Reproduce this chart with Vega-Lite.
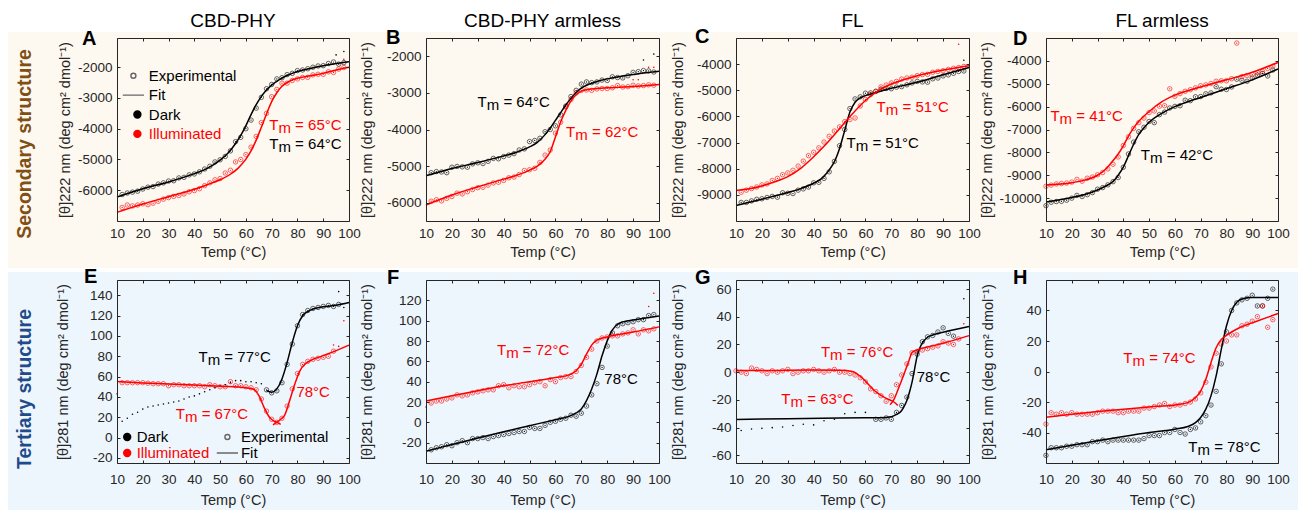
{"$schema":"https://vega.github.io/schema/vega-lite/v6.json","autosize":{"type":"none"},"padding":{"left":117,"top":38,"right":1181,"bottom":472},"background":"white",
"datasets":{
"exp":[
{"p":"A","c":"D","T":12,"v":-6140},{"p":"A","c":"D","T":14,"v":-6090},{"p":"A","c":"D","T":16,"v":-6060},{"p":"A","c":"D","T":18,"v":-6030},{"p":"A","c":"D","T":20,"v":-5960},{"p":"A","c":"D","T":22,"v":-5900},{"p":"A","c":"D","T":24,"v":-5880},{"p":"A","c":"D","T":26,"v":-5800},{"p":"A","c":"D","T":28,"v":-5760},{"p":"A","c":"D","T":30,"v":-5700},{"p":"A","c":"D","T":32,"v":-5690},{"p":"A","c":"D","T":34,"v":-5600},{"p":"A","c":"D","T":36,"v":-5580},{"p":"A","c":"D","T":38,"v":-5500},{"p":"A","c":"D","T":40,"v":-5470},{"p":"A","c":"D","T":42,"v":-5400},{"p":"A","c":"D","T":44,"v":-5310},{"p":"A","c":"D","T":46,"v":-5220},{"p":"A","c":"D","T":48,"v":-5080},{"p":"A","c":"D","T":50,"v":-5010},{"p":"A","c":"D","T":52,"v":-4900},{"p":"A","c":"D","T":54,"v":-4720},{"p":"A","c":"D","T":56,"v":-4420},{"p":"A","c":"D","T":58,"v":-4280},{"p":"A","c":"D","T":60,"v":-4000},{"p":"A","c":"D","T":62,"v":-3720},{"p":"A","c":"D","T":64,"v":-3330},{"p":"A","c":"D","T":66,"v":-2980},{"p":"A","c":"D","T":68,"v":-2700},{"p":"A","c":"D","T":70,"v":-2560},{"p":"A","c":"D","T":72,"v":-2380},{"p":"A","c":"D","T":74,"v":-2340},{"p":"A","c":"D","T":76,"v":-2240},{"p":"A","c":"D","T":78,"v":-2200},{"p":"A","c":"D","T":80,"v":-2110},{"p":"A","c":"D","T":82,"v":-2090},{"p":"A","c":"D","T":84,"v":-2050},{"p":"A","c":"D","T":86,"v":-2000},{"p":"A","c":"D","T":88,"v":-1960},{"p":"A","c":"D","T":90,"v":-1950},{"p":"A","c":"D","T":92,"v":-1880},{"p":"A","c":"D","T":94,"v":-1830},{"p":"A","c":"D","T":96,"v":-1900},{"p":"A","c":"D","T":98,"v":-1850},
{"p":"A","c":"I","T":12,"v":-6560},{"p":"A","c":"I","T":14,"v":-6480},{"p":"A","c":"I","T":16,"v":-6510},{"p":"A","c":"I","T":18,"v":-6480},{"p":"A","c":"I","T":20,"v":-6440},{"p":"A","c":"I","T":22,"v":-6470},{"p":"A","c":"I","T":24,"v":-6420},{"p":"A","c":"I","T":26,"v":-6360},{"p":"A","c":"I","T":28,"v":-6290},{"p":"A","c":"I","T":30,"v":-6240},{"p":"A","c":"I","T":32,"v":-6200},{"p":"A","c":"I","T":34,"v":-6170},{"p":"A","c":"I","T":36,"v":-6120},{"p":"A","c":"I","T":38,"v":-6050},{"p":"A","c":"I","T":40,"v":-6010},{"p":"A","c":"I","T":42,"v":-5950},{"p":"A","c":"I","T":44,"v":-5850},{"p":"A","c":"I","T":46,"v":-5760},{"p":"A","c":"I","T":48,"v":-5660},{"p":"A","c":"I","T":50,"v":-5620},{"p":"A","c":"I","T":52,"v":-5440},{"p":"A","c":"I","T":54,"v":-5350},{"p":"A","c":"I","T":56,"v":-5080},{"p":"A","c":"I","T":58,"v":-5000},{"p":"A","c":"I","T":60,"v":-4840},{"p":"A","c":"I","T":62,"v":-4600},{"p":"A","c":"I","T":64,"v":-4250},{"p":"A","c":"I","T":66,"v":-3800},{"p":"A","c":"I","T":68,"v":-3500},{"p":"A","c":"I","T":70,"v":-2960},{"p":"A","c":"I","T":72,"v":-2720},{"p":"A","c":"I","T":74,"v":-2520},{"p":"A","c":"I","T":76,"v":-2520},{"p":"A","c":"I","T":78,"v":-2430},{"p":"A","c":"I","T":80,"v":-2380},{"p":"A","c":"I","T":82,"v":-2330},{"p":"A","c":"I","T":84,"v":-2330},{"p":"A","c":"I","T":86,"v":-2250},{"p":"A","c":"I","T":88,"v":-2230},{"p":"A","c":"I","T":90,"v":-2230},{"p":"A","c":"I","T":92,"v":-2150},{"p":"A","c":"I","T":94,"v":-2170},{"p":"A","c":"I","T":96,"v":-2060},{"p":"A","c":"I","T":98,"v":-2010},
{"p":"B","c":"D","T":12,"v":-5180},{"p":"B","c":"D","T":14,"v":-5150},{"p":"B","c":"D","T":16,"v":-5160},{"p":"B","c":"D","T":18,"v":-5180},{"p":"B","c":"D","T":20,"v":-5030},{"p":"B","c":"D","T":22,"v":-5010},{"p":"B","c":"D","T":24,"v":-5020},{"p":"B","c":"D","T":26,"v":-5030},{"p":"B","c":"D","T":28,"v":-4940},{"p":"B","c":"D","T":30,"v":-4910},{"p":"B","c":"D","T":32,"v":-4930},{"p":"B","c":"D","T":34,"v":-4870},{"p":"B","c":"D","T":36,"v":-4790},{"p":"B","c":"D","T":38,"v":-4800},{"p":"B","c":"D","T":40,"v":-4740},{"p":"B","c":"D","T":42,"v":-4700},{"p":"B","c":"D","T":44,"v":-4660},{"p":"B","c":"D","T":46,"v":-4560},{"p":"B","c":"D","T":48,"v":-4530},{"p":"B","c":"D","T":50,"v":-4330},{"p":"B","c":"D","T":52,"v":-4300},{"p":"B","c":"D","T":54,"v":-4240},{"p":"B","c":"D","T":56,"v":-4060},{"p":"B","c":"D","T":58,"v":-4000},{"p":"B","c":"D","T":60,"v":-3900},{"p":"B","c":"D","T":62,"v":-3600},{"p":"B","c":"D","T":64,"v":-3360},{"p":"B","c":"D","T":66,"v":-3100},{"p":"B","c":"D","T":68,"v":-2930},{"p":"B","c":"D","T":70,"v":-2760},{"p":"B","c":"D","T":72,"v":-2700},{"p":"B","c":"D","T":74,"v":-2720},{"p":"B","c":"D","T":76,"v":-2700},{"p":"B","c":"D","T":78,"v":-2650},{"p":"B","c":"D","T":80,"v":-2660},{"p":"B","c":"D","T":82,"v":-2560},{"p":"B","c":"D","T":84,"v":-2580},{"p":"B","c":"D","T":86,"v":-2590},{"p":"B","c":"D","T":88,"v":-2530},{"p":"B","c":"D","T":90,"v":-2440},{"p":"B","c":"D","T":92,"v":-2420},{"p":"B","c":"D","T":94,"v":-2390},{"p":"B","c":"D","T":96,"v":-2400},{"p":"B","c":"D","T":98,"v":-2430},
{"p":"B","c":"I","T":12,"v":-5960},{"p":"B","c":"I","T":14,"v":-5920},{"p":"B","c":"I","T":16,"v":-5950},{"p":"B","c":"I","T":18,"v":-5880},{"p":"B","c":"I","T":20,"v":-5830},{"p":"B","c":"I","T":22,"v":-5740},{"p":"B","c":"I","T":24,"v":-5760},{"p":"B","c":"I","T":26,"v":-5700},{"p":"B","c":"I","T":28,"v":-5640},{"p":"B","c":"I","T":30,"v":-5590},{"p":"B","c":"I","T":32,"v":-5580},{"p":"B","c":"I","T":34,"v":-5520},{"p":"B","c":"I","T":36,"v":-5460},{"p":"B","c":"I","T":38,"v":-5440},{"p":"B","c":"I","T":40,"v":-5390},{"p":"B","c":"I","T":42,"v":-5320},{"p":"B","c":"I","T":44,"v":-5300},{"p":"B","c":"I","T":46,"v":-5230},{"p":"B","c":"I","T":48,"v":-5120},{"p":"B","c":"I","T":50,"v":-5100},{"p":"B","c":"I","T":52,"v":-5060},{"p":"B","c":"I","T":54,"v":-4900},{"p":"B","c":"I","T":56,"v":-4700},{"p":"B","c":"I","T":58,"v":-4560},{"p":"B","c":"I","T":60,"v":-4100},{"p":"B","c":"I","T":62,"v":-3800},{"p":"B","c":"I","T":64,"v":-3380},{"p":"B","c":"I","T":66,"v":-3180},{"p":"B","c":"I","T":68,"v":-3000},{"p":"B","c":"I","T":70,"v":-2930},{"p":"B","c":"I","T":72,"v":-2920},{"p":"B","c":"I","T":74,"v":-2930},{"p":"B","c":"I","T":76,"v":-2890},{"p":"B","c":"I","T":78,"v":-2880},{"p":"B","c":"I","T":80,"v":-2880},{"p":"B","c":"I","T":82,"v":-2860},{"p":"B","c":"I","T":84,"v":-2800},{"p":"B","c":"I","T":86,"v":-2840},{"p":"B","c":"I","T":88,"v":-2830},{"p":"B","c":"I","T":90,"v":-2790},{"p":"B","c":"I","T":92,"v":-2810},{"p":"B","c":"I","T":94,"v":-2800},{"p":"B","c":"I","T":96,"v":-2780},{"p":"B","c":"I","T":98,"v":-2790},
{"p":"C","c":"D","T":12,"v":-9290},{"p":"C","c":"D","T":14,"v":-9290},{"p":"C","c":"D","T":16,"v":-9230},{"p":"C","c":"D","T":18,"v":-9170},{"p":"C","c":"D","T":20,"v":-9150},{"p":"C","c":"D","T":22,"v":-9100},{"p":"C","c":"D","T":24,"v":-9060},{"p":"C","c":"D","T":26,"v":-9090},{"p":"C","c":"D","T":28,"v":-8920},{"p":"C","c":"D","T":30,"v":-8940},{"p":"C","c":"D","T":32,"v":-8950},{"p":"C","c":"D","T":34,"v":-8820},{"p":"C","c":"D","T":36,"v":-8770},{"p":"C","c":"D","T":38,"v":-8700},{"p":"C","c":"D","T":40,"v":-8540},{"p":"C","c":"D","T":42,"v":-8520},{"p":"C","c":"D","T":44,"v":-8370},{"p":"C","c":"D","T":46,"v":-8120},{"p":"C","c":"D","T":48,"v":-7720},{"p":"C","c":"D","T":50,"v":-7120},{"p":"C","c":"D","T":52,"v":-6500},{"p":"C","c":"D","T":54,"v":-5700},{"p":"C","c":"D","T":56,"v":-5330},{"p":"C","c":"D","T":58,"v":-5250},{"p":"C","c":"D","T":60,"v":-5110},{"p":"C","c":"D","T":62,"v":-5100},{"p":"C","c":"D","T":64,"v":-5040},{"p":"C","c":"D","T":66,"v":-4960},{"p":"C","c":"D","T":68,"v":-4930},{"p":"C","c":"D","T":70,"v":-4940},{"p":"C","c":"D","T":72,"v":-4880},{"p":"C","c":"D","T":74,"v":-4860},{"p":"C","c":"D","T":76,"v":-4790},{"p":"C","c":"D","T":78,"v":-4720},{"p":"C","c":"D","T":80,"v":-4660},{"p":"C","c":"D","T":82,"v":-4680},{"p":"C","c":"D","T":84,"v":-4690},{"p":"C","c":"D","T":86,"v":-4560},{"p":"C","c":"D","T":88,"v":-4530},{"p":"C","c":"D","T":90,"v":-4450},{"p":"C","c":"D","T":92,"v":-4410},{"p":"C","c":"D","T":94,"v":-4350},{"p":"C","c":"D","T":96,"v":-4280},{"p":"C","c":"D","T":98,"v":-4260},
{"p":"C","c":"I","T":12,"v":-8900},{"p":"C","c":"I","T":14,"v":-8820},{"p":"C","c":"I","T":16,"v":-8760},{"p":"C","c":"I","T":18,"v":-8700},{"p":"C","c":"I","T":20,"v":-8620},{"p":"C","c":"I","T":22,"v":-8580},{"p":"C","c":"I","T":24,"v":-8450},{"p":"C","c":"I","T":26,"v":-8370},{"p":"C","c":"I","T":28,"v":-8230},{"p":"C","c":"I","T":30,"v":-8160},{"p":"C","c":"I","T":32,"v":-8060},{"p":"C","c":"I","T":34,"v":-7900},{"p":"C","c":"I","T":36,"v":-7710},{"p":"C","c":"I","T":38,"v":-7500},{"p":"C","c":"I","T":40,"v":-7370},{"p":"C","c":"I","T":42,"v":-7200},{"p":"C","c":"I","T":44,"v":-6980},{"p":"C","c":"I","T":46,"v":-6760},{"p":"C","c":"I","T":48,"v":-6560},{"p":"C","c":"I","T":50,"v":-6400},{"p":"C","c":"I","T":52,"v":-6200},{"p":"C","c":"I","T":54,"v":-6120},{"p":"C","c":"I","T":56,"v":-6060},{"p":"C","c":"I","T":58,"v":-5600},{"p":"C","c":"I","T":60,"v":-5350},{"p":"C","c":"I","T":62,"v":-5160},{"p":"C","c":"I","T":64,"v":-5040},{"p":"C","c":"I","T":66,"v":-4870},{"p":"C","c":"I","T":68,"v":-4800},{"p":"C","c":"I","T":70,"v":-4720},{"p":"C","c":"I","T":72,"v":-4660},{"p":"C","c":"I","T":74,"v":-4570},{"p":"C","c":"I","T":76,"v":-4530},{"p":"C","c":"I","T":78,"v":-4500},{"p":"C","c":"I","T":80,"v":-4440},{"p":"C","c":"I","T":82,"v":-4400},{"p":"C","c":"I","T":84,"v":-4390},{"p":"C","c":"I","T":86,"v":-4310},{"p":"C","c":"I","T":88,"v":-4280},{"p":"C","c":"I","T":90,"v":-4250},{"p":"C","c":"I","T":92,"v":-4200},{"p":"C","c":"I","T":94,"v":-4160},{"p":"C","c":"I","T":96,"v":-4130},{"p":"C","c":"I","T":98,"v":-4090},
{"p":"D","c":"D","T":10,"v":-10330},{"p":"D","c":"D","T":12,"v":-10180},{"p":"D","c":"D","T":14,"v":-10150},{"p":"D","c":"D","T":16,"v":-10140},{"p":"D","c":"D","T":18,"v":-10090},{"p":"D","c":"D","T":20,"v":-10000},{"p":"D","c":"D","T":22,"v":-9880},{"p":"D","c":"D","T":24,"v":-9930},{"p":"D","c":"D","T":26,"v":-9850},{"p":"D","c":"D","T":28,"v":-9760},{"p":"D","c":"D","T":30,"v":-9610},{"p":"D","c":"D","T":32,"v":-9540},{"p":"D","c":"D","T":34,"v":-9420},{"p":"D","c":"D","T":36,"v":-9280},{"p":"D","c":"D","T":38,"v":-9100},{"p":"D","c":"D","T":40,"v":-8650},{"p":"D","c":"D","T":42,"v":-8070},{"p":"D","c":"D","T":44,"v":-7550},{"p":"D","c":"D","T":46,"v":-7100},{"p":"D","c":"D","T":48,"v":-6900},{"p":"D","c":"D","T":50,"v":-6650},{"p":"D","c":"D","T":52,"v":-6700},{"p":"D","c":"D","T":54,"v":-6350},{"p":"D","c":"D","T":56,"v":-6240},{"p":"D","c":"D","T":58,"v":-6060},{"p":"D","c":"D","T":60,"v":-5990},{"p":"D","c":"D","T":62,"v":-5960},{"p":"D","c":"D","T":64,"v":-5720},{"p":"D","c":"D","T":66,"v":-5740},{"p":"D","c":"D","T":68,"v":-5570},{"p":"D","c":"D","T":70,"v":-5560},{"p":"D","c":"D","T":72,"v":-5440},{"p":"D","c":"D","T":74,"v":-5400},{"p":"D","c":"D","T":76,"v":-5130},{"p":"D","c":"D","T":78,"v":-5240},{"p":"D","c":"D","T":80,"v":-5250},{"p":"D","c":"D","T":82,"v":-5140},{"p":"D","c":"D","T":84,"v":-4800},{"p":"D","c":"D","T":86,"v":-4850},{"p":"D","c":"D","T":88,"v":-4890},{"p":"D","c":"D","T":90,"v":-4750},{"p":"D","c":"D","T":92,"v":-4620},{"p":"D","c":"D","T":94,"v":-4550},{"p":"D","c":"D","T":96,"v":-4660},{"p":"D","c":"D","T":98,"v":-4400},
{"p":"D","c":"I","T":10,"v":-9480},{"p":"D","c":"I","T":12,"v":-9430},{"p":"D","c":"I","T":14,"v":-9380},{"p":"D","c":"I","T":16,"v":-9360},{"p":"D","c":"I","T":18,"v":-9340},{"p":"D","c":"I","T":20,"v":-9300},{"p":"D","c":"I","T":22,"v":-9180},{"p":"D","c":"I","T":24,"v":-9260},{"p":"D","c":"I","T":26,"v":-9130},{"p":"D","c":"I","T":28,"v":-9080},{"p":"D","c":"I","T":30,"v":-8980},{"p":"D","c":"I","T":32,"v":-8880},{"p":"D","c":"I","T":34,"v":-8720},{"p":"D","c":"I","T":36,"v":-8520},{"p":"D","c":"I","T":38,"v":-8200},{"p":"D","c":"I","T":40,"v":-7700},{"p":"D","c":"I","T":42,"v":-7320},{"p":"D","c":"I","T":44,"v":-6950},{"p":"D","c":"I","T":46,"v":-6700},{"p":"D","c":"I","T":48,"v":-6500},{"p":"D","c":"I","T":50,"v":-6260},{"p":"D","c":"I","T":52,"v":-6190},{"p":"D","c":"I","T":54,"v":-5980},{"p":"D","c":"I","T":56,"v":-5960},{"p":"D","c":"I","T":58,"v":-5220},{"p":"D","c":"I","T":60,"v":-5550},{"p":"D","c":"I","T":62,"v":-5430},{"p":"D","c":"I","T":64,"v":-5330},{"p":"D","c":"I","T":66,"v":-5260},{"p":"D","c":"I","T":68,"v":-5180},{"p":"D","c":"I","T":70,"v":-5090},{"p":"D","c":"I","T":72,"v":-5050},{"p":"D","c":"I","T":74,"v":-4990},{"p":"D","c":"I","T":76,"v":-4890},{"p":"D","c":"I","T":78,"v":-4870},{"p":"D","c":"I","T":80,"v":-4870},{"p":"D","c":"I","T":82,"v":-4780},{"p":"D","c":"I","T":84,"v":-3220},{"p":"D","c":"I","T":86,"v":-4690},{"p":"D","c":"I","T":88,"v":-4640},{"p":"D","c":"I","T":90,"v":-4600},{"p":"D","c":"I","T":92,"v":-4510},{"p":"D","c":"I","T":94,"v":-4470},{"p":"D","c":"I","T":96,"v":-4330},{"p":"D","c":"I","T":98,"v":-4230},
{"p":"E","c":"D","T":68,"v":47},{"p":"E","c":"D","T":70,"v":44},{"p":"E","c":"D","T":72,"v":46},{"p":"E","c":"D","T":74,"v":54},{"p":"E","c":"D","T":76,"v":72},{"p":"E","c":"D","T":78,"v":92},{"p":"E","c":"D","T":80,"v":110},{"p":"E","c":"D","T":82,"v":121},{"p":"E","c":"D","T":84,"v":125},{"p":"E","c":"D","T":86,"v":127},{"p":"E","c":"D","T":88,"v":128},{"p":"E","c":"D","T":90,"v":129},{"p":"E","c":"D","T":92,"v":130},{"p":"E","c":"D","T":94,"v":129},{"p":"E","c":"D","T":96,"v":131},
{"p":"E","c":"I","T":12,"v":54},{"p":"E","c":"I","T":14,"v":54},{"p":"E","c":"I","T":16,"v":54},{"p":"E","c":"I","T":18,"v":54},{"p":"E","c":"I","T":20,"v":54},{"p":"E","c":"I","T":22,"v":53.5},{"p":"E","c":"I","T":24,"v":53},{"p":"E","c":"I","T":26,"v":53},{"p":"E","c":"I","T":28,"v":53},{"p":"E","c":"I","T":30,"v":51},{"p":"E","c":"I","T":32,"v":52},{"p":"E","c":"I","T":34,"v":52},{"p":"E","c":"I","T":36,"v":51},{"p":"E","c":"I","T":38,"v":51},{"p":"E","c":"I","T":40,"v":51},{"p":"E","c":"I","T":42,"v":51},{"p":"E","c":"I","T":44,"v":50},{"p":"E","c":"I","T":46,"v":52},{"p":"E","c":"I","T":48,"v":51},{"p":"E","c":"I","T":50,"v":50},{"p":"E","c":"I","T":52,"v":50},{"p":"E","c":"I","T":54,"v":55},{"p":"E","c":"I","T":56,"v":51},{"p":"E","c":"I","T":58,"v":51},{"p":"E","c":"I","T":60,"v":50},{"p":"E","c":"I","T":62,"v":49},{"p":"E","c":"I","T":64,"v":47},{"p":"E","c":"I","T":66,"v":38},{"p":"E","c":"I","T":68,"v":26},{"p":"E","c":"I","T":70,"v":18},{"p":"E","c":"I","T":72,"v":15},{"p":"E","c":"I","T":74,"v":19},{"p":"E","c":"I","T":76,"v":31},{"p":"E","c":"I","T":78,"v":48},{"p":"E","c":"I","T":80,"v":63},{"p":"E","c":"I","T":82,"v":72},{"p":"E","c":"I","T":84,"v":75},{"p":"E","c":"I","T":86,"v":77},{"p":"E","c":"I","T":88,"v":78},{"p":"E","c":"I","T":90,"v":79},{"p":"E","c":"I","T":92,"v":80},{"p":"E","c":"I","T":94,"v":85},
{"p":"F","c":"D","T":12,"v":-27},{"p":"F","c":"D","T":14,"v":-25},{"p":"F","c":"D","T":16,"v":-24},{"p":"F","c":"D","T":18,"v":-22},{"p":"F","c":"D","T":20,"v":-23},{"p":"F","c":"D","T":22,"v":-20},{"p":"F","c":"D","T":24,"v":-18},{"p":"F","c":"D","T":26,"v":-20},{"p":"F","c":"D","T":28,"v":-16},{"p":"F","c":"D","T":30,"v":-16},{"p":"F","c":"D","T":32,"v":-15},{"p":"F","c":"D","T":34,"v":-16},{"p":"F","c":"D","T":36,"v":-14},{"p":"F","c":"D","T":38,"v":-13},{"p":"F","c":"D","T":40,"v":-12},{"p":"F","c":"D","T":42,"v":-11},{"p":"F","c":"D","T":44,"v":-10},{"p":"F","c":"D","T":46,"v":-9},{"p":"F","c":"D","T":48,"v":-9},{"p":"F","c":"D","T":50,"v":-5},{"p":"F","c":"D","T":52,"v":-6},{"p":"F","c":"D","T":54,"v":-6},{"p":"F","c":"D","T":56,"v":-3},{"p":"F","c":"D","T":58,"v":0},{"p":"F","c":"D","T":60,"v":1},{"p":"F","c":"D","T":62,"v":3},{"p":"F","c":"D","T":64,"v":4},{"p":"F","c":"D","T":66,"v":7},{"p":"F","c":"D","T":68,"v":6},{"p":"F","c":"D","T":70,"v":9},{"p":"F","c":"D","T":72,"v":16},{"p":"F","c":"D","T":74,"v":27},{"p":"F","c":"D","T":76,"v":38},{"p":"F","c":"D","T":78,"v":54},{"p":"F","c":"D","T":80,"v":75},{"p":"F","c":"D","T":82,"v":88},{"p":"F","c":"D","T":84,"v":95},{"p":"F","c":"D","T":86,"v":97},{"p":"F","c":"D","T":88,"v":98},{"p":"F","c":"D","T":90,"v":99},{"p":"F","c":"D","T":92,"v":101},{"p":"F","c":"D","T":94,"v":101},{"p":"F","c":"D","T":96,"v":105},{"p":"F","c":"D","T":98,"v":106},
{"p":"F","c":"I","T":12,"v":19},{"p":"F","c":"I","T":14,"v":21},{"p":"F","c":"I","T":16,"v":21},{"p":"F","c":"I","T":18,"v":23},{"p":"F","c":"I","T":20,"v":24},{"p":"F","c":"I","T":22,"v":27},{"p":"F","c":"I","T":24,"v":26},{"p":"F","c":"I","T":26,"v":27},{"p":"F","c":"I","T":28,"v":29},{"p":"F","c":"I","T":30,"v":30},{"p":"F","c":"I","T":32,"v":31},{"p":"F","c":"I","T":34,"v":32},{"p":"F","c":"I","T":36,"v":32},{"p":"F","c":"I","T":38,"v":36},{"p":"F","c":"I","T":40,"v":37},{"p":"F","c":"I","T":42,"v":34},{"p":"F","c":"I","T":44,"v":36},{"p":"F","c":"I","T":46,"v":35},{"p":"F","c":"I","T":48,"v":35},{"p":"F","c":"I","T":50,"v":37},{"p":"F","c":"I","T":52,"v":39},{"p":"F","c":"I","T":54,"v":40},{"p":"F","c":"I","T":56,"v":36},{"p":"F","c":"I","T":58,"v":42},{"p":"F","c":"I","T":60,"v":40},{"p":"F","c":"I","T":62,"v":44},{"p":"F","c":"I","T":64,"v":45},{"p":"F","c":"I","T":66,"v":45},{"p":"F","c":"I","T":68,"v":50},{"p":"F","c":"I","T":70,"v":56},{"p":"F","c":"I","T":72,"v":64},{"p":"F","c":"I","T":74,"v":72},{"p":"F","c":"I","T":76,"v":80},{"p":"F","c":"I","T":78,"v":83},{"p":"F","c":"I","T":80,"v":84},{"p":"F","c":"I","T":82,"v":85},{"p":"F","c":"I","T":84,"v":85},{"p":"F","c":"I","T":86,"v":87},{"p":"F","c":"I","T":88,"v":88},{"p":"F","c":"I","T":90,"v":91},{"p":"F","c":"I","T":92,"v":87},{"p":"F","c":"I","T":94,"v":91},{"p":"F","c":"I","T":96,"v":90},{"p":"F","c":"I","T":98,"v":92},
{"p":"G","c":"D","T":64,"v":-34},{"p":"G","c":"D","T":66,"v":-34},{"p":"G","c":"D","T":68,"v":-33},{"p":"G","c":"D","T":70,"v":-34},{"p":"G","c":"D","T":72,"v":-29},{"p":"G","c":"D","T":74,"v":-24},{"p":"G","c":"D","T":76,"v":-18},{"p":"G","c":"D","T":78,"v":-1},{"p":"G","c":"D","T":80,"v":13},{"p":"G","c":"D","T":82,"v":22},{"p":"G","c":"D","T":84,"v":25.5},{"p":"G","c":"D","T":86,"v":26.5},{"p":"G","c":"D","T":88,"v":29},{"p":"G","c":"D","T":90,"v":32},{"p":"G","c":"D","T":92,"v":28},{"p":"G","c":"D","T":94,"v":26},
{"p":"G","c":"I","T":10,"v":1},{"p":"G","c":"I","T":12,"v":0},{"p":"G","c":"I","T":14,"v":-1},{"p":"G","c":"I","T":16,"v":3},{"p":"G","c":"I","T":18,"v":2},{"p":"G","c":"I","T":20,"v":1},{"p":"G","c":"I","T":22,"v":-1},{"p":"G","c":"I","T":24,"v":1},{"p":"G","c":"I","T":26,"v":0},{"p":"G","c":"I","T":28,"v":1},{"p":"G","c":"I","T":30,"v":2},{"p":"G","c":"I","T":32,"v":-1},{"p":"G","c":"I","T":34,"v":0},{"p":"G","c":"I","T":36,"v":1},{"p":"G","c":"I","T":38,"v":1},{"p":"G","c":"I","T":40,"v":2},{"p":"G","c":"I","T":42,"v":1},{"p":"G","c":"I","T":44,"v":0},{"p":"G","c":"I","T":46,"v":1},{"p":"G","c":"I","T":48,"v":2},{"p":"G","c":"I","T":50,"v":0},{"p":"G","c":"I","T":52,"v":0},{"p":"G","c":"I","T":54,"v":-1},{"p":"G","c":"I","T":56,"v":-2},{"p":"G","c":"I","T":58,"v":-4},{"p":"G","c":"I","T":60,"v":-7},{"p":"G","c":"I","T":62,"v":-12},{"p":"G","c":"I","T":64,"v":-14},{"p":"G","c":"I","T":66,"v":-17},{"p":"G","c":"I","T":68,"v":-21},{"p":"G","c":"I","T":70,"v":-17},{"p":"G","c":"I","T":72,"v":-9},{"p":"G","c":"I","T":74,"v":-2},{"p":"G","c":"I","T":76,"v":6},{"p":"G","c":"I","T":78,"v":14},{"p":"G","c":"I","T":80,"v":15},{"p":"G","c":"I","T":82,"v":16},{"p":"G","c":"I","T":84,"v":17},{"p":"G","c":"I","T":86,"v":18},{"p":"G","c":"I","T":88,"v":19},{"p":"G","c":"I","T":90,"v":22},{"p":"G","c":"I","T":92,"v":21},{"p":"G","c":"I","T":94,"v":20},{"p":"G","c":"I","T":96,"v":24},
{"p":"H","c":"D","T":10,"v":-55},{"p":"H","c":"D","T":12,"v":-50},{"p":"H","c":"D","T":14,"v":-50},{"p":"H","c":"D","T":16,"v":-50},{"p":"H","c":"D","T":18,"v":-49},{"p":"H","c":"D","T":20,"v":-49},{"p":"H","c":"D","T":22,"v":-48},{"p":"H","c":"D","T":24,"v":-48},{"p":"H","c":"D","T":26,"v":-48},{"p":"H","c":"D","T":28,"v":-46},{"p":"H","c":"D","T":30,"v":-46},{"p":"H","c":"D","T":32,"v":-45},{"p":"H","c":"D","T":34,"v":-46},{"p":"H","c":"D","T":36,"v":-45},{"p":"H","c":"D","T":38,"v":-45},{"p":"H","c":"D","T":40,"v":-45},{"p":"H","c":"D","T":42,"v":-45},{"p":"H","c":"D","T":44,"v":-45},{"p":"H","c":"D","T":46,"v":-45},{"p":"H","c":"D","T":48,"v":-44},{"p":"H","c":"D","T":50,"v":-42},{"p":"H","c":"D","T":52,"v":-42},{"p":"H","c":"D","T":54,"v":-42},{"p":"H","c":"D","T":56,"v":-40},{"p":"H","c":"D","T":58,"v":-40},{"p":"H","c":"D","T":60,"v":-38},{"p":"H","c":"D","T":62,"v":-40},{"p":"H","c":"D","T":64,"v":-41},{"p":"H","c":"D","T":66,"v":-38},{"p":"H","c":"D","T":68,"v":-37},{"p":"H","c":"D","T":70,"v":-33},{"p":"H","c":"D","T":72,"v":-29},{"p":"H","c":"D","T":74,"v":-22},{"p":"H","c":"D","T":76,"v":-13},{"p":"H","c":"D","T":78,"v":5},{"p":"H","c":"D","T":80,"v":26},{"p":"H","c":"D","T":82,"v":40},{"p":"H","c":"D","T":84,"v":45},{"p":"H","c":"D","T":86,"v":47},{"p":"H","c":"D","T":88,"v":48},{"p":"H","c":"D","T":90,"v":50},{"p":"H","c":"D","T":92,"v":43},{"p":"H","c":"D","T":94,"v":43},{"p":"H","c":"D","T":96,"v":48},{"p":"H","c":"D","T":98,"v":54},
{"p":"H","c":"I","T":10,"v":-34.5},{"p":"H","c":"I","T":12,"v":-27},{"p":"H","c":"I","T":14,"v":-28},{"p":"H","c":"I","T":16,"v":-27},{"p":"H","c":"I","T":18,"v":-28},{"p":"H","c":"I","T":20,"v":-27},{"p":"H","c":"I","T":22,"v":-28},{"p":"H","c":"I","T":24,"v":-28},{"p":"H","c":"I","T":26,"v":-28},{"p":"H","c":"I","T":28,"v":-28},{"p":"H","c":"I","T":30,"v":-27},{"p":"H","c":"I","T":32,"v":-26},{"p":"H","c":"I","T":34,"v":-26},{"p":"H","c":"I","T":36,"v":-26},{"p":"H","c":"I","T":38,"v":-27},{"p":"H","c":"I","T":40,"v":-27},{"p":"H","c":"I","T":42,"v":-26},{"p":"H","c":"I","T":44,"v":-26},{"p":"H","c":"I","T":46,"v":-26},{"p":"H","c":"I","T":48,"v":-24},{"p":"H","c":"I","T":50,"v":-24},{"p":"H","c":"I","T":52,"v":-23},{"p":"H","c":"I","T":54,"v":-22},{"p":"H","c":"I","T":56,"v":-21},{"p":"H","c":"I","T":58,"v":-23},{"p":"H","c":"I","T":60,"v":-22},{"p":"H","c":"I","T":62,"v":-22},{"p":"H","c":"I","T":64,"v":-21},{"p":"H","c":"I","T":66,"v":-20},{"p":"H","c":"I","T":68,"v":-18},{"p":"H","c":"I","T":70,"v":-14},{"p":"H","c":"I","T":72,"v":-7},{"p":"H","c":"I","T":74,"v":3},{"p":"H","c":"I","T":76,"v":12},{"p":"H","c":"I","T":78,"v":18},{"p":"H","c":"I","T":80,"v":20},{"p":"H","c":"I","T":82,"v":24},{"p":"H","c":"I","T":84,"v":24},{"p":"H","c":"I","T":86,"v":30},{"p":"H","c":"I","T":88,"v":31},{"p":"H","c":"I","T":90,"v":33},{"p":"H","c":"I","T":92,"v":36},{"p":"H","c":"I","T":94,"v":43},{"p":"H","c":"I","T":96,"v":29},{"p":"H","c":"I","T":98,"v":34}
],
"fit":[
{"p":"A","c":"D","T":10,"v":-6220},{"p":"A","c":"D","T":20,"v":-5950},{"p":"A","c":"D","T":30,"v":-5730},{"p":"A","c":"D","T":40,"v":-5460},{"p":"A","c":"D","T":45,"v":-5290},{"p":"A","c":"D","T":50,"v":-5020},{"p":"A","c":"D","T":53,"v":-4800},{"p":"A","c":"D","T":56,"v":-4480},{"p":"A","c":"D","T":58,"v":-4220},{"p":"A","c":"D","T":60,"v":-3900},{"p":"A","c":"D","T":62,"v":-3540},{"p":"A","c":"D","T":64,"v":-3220},{"p":"A","c":"D","T":66,"v":-2950},{"p":"A","c":"D","T":68,"v":-2740},{"p":"A","c":"D","T":70,"v":-2580},{"p":"A","c":"D","T":73,"v":-2400},{"p":"A","c":"D","T":76,"v":-2270},{"p":"A","c":"D","T":80,"v":-2140},{"p":"A","c":"D","T":85,"v":-2040},{"p":"A","c":"D","T":90,"v":-1950},{"p":"A","c":"D","T":95,"v":-1880},{"p":"A","c":"D","T":100,"v":-1820},
{"p":"A","c":"I","T":10,"v":-6720},{"p":"A","c":"I","T":20,"v":-6450},{"p":"A","c":"I","T":30,"v":-6210},{"p":"A","c":"I","T":40,"v":-5970},{"p":"A","c":"I","T":45,"v":-5820},{"p":"A","c":"I","T":50,"v":-5660},{"p":"A","c":"I","T":54,"v":-5480},{"p":"A","c":"I","T":57,"v":-5280},{"p":"A","c":"I","T":60,"v":-4990},{"p":"A","c":"I","T":62,"v":-4720},{"p":"A","c":"I","T":64,"v":-4370},{"p":"A","c":"I","T":66,"v":-3950},{"p":"A","c":"I","T":68,"v":-3520},{"p":"A","c":"I","T":70,"v":-3120},{"p":"A","c":"I","T":72,"v":-2830},{"p":"A","c":"I","T":74,"v":-2620},{"p":"A","c":"I","T":77,"v":-2450},{"p":"A","c":"I","T":80,"v":-2360},{"p":"A","c":"I","T":85,"v":-2280},{"p":"A","c":"I","T":90,"v":-2200},{"p":"A","c":"I","T":95,"v":-2090},{"p":"A","c":"I","T":100,"v":-2000},
{"p":"B","c":"D","T":10,"v":-5265},{"p":"B","c":"D","T":20,"v":-5066},{"p":"B","c":"D","T":30,"v":-4902},{"p":"B","c":"D","T":40,"v":-4721},{"p":"B","c":"D","T":45,"v":-4620},{"p":"B","c":"D","T":50,"v":-4476},{"p":"B","c":"D","T":53,"v":-4350},{"p":"B","c":"D","T":56,"v":-4140},{"p":"B","c":"D","T":58,"v":-3960},{"p":"B","c":"D","T":60,"v":-3750},{"p":"B","c":"D","T":62,"v":-3540},{"p":"B","c":"D","T":64,"v":-3330},{"p":"B","c":"D","T":66,"v":-3150},{"p":"B","c":"D","T":68,"v":-2990},{"p":"B","c":"D","T":70,"v":-2870},{"p":"B","c":"D","T":73,"v":-2760},{"p":"B","c":"D","T":76,"v":-2690},{"p":"B","c":"D","T":80,"v":-2617},{"p":"B","c":"D","T":85,"v":-2550},{"p":"B","c":"D","T":90,"v":-2499},{"p":"B","c":"D","T":95,"v":-2450},{"p":"B","c":"D","T":100,"v":-2408},
{"p":"B","c":"I","T":10,"v":-6063},{"p":"B","c":"I","T":20,"v":-5791},{"p":"B","c":"I","T":30,"v":-5565},{"p":"B","c":"I","T":40,"v":-5356},{"p":"B","c":"I","T":45,"v":-5250},{"p":"B","c":"I","T":50,"v":-5111},{"p":"B","c":"I","T":53,"v":-5000},{"p":"B","c":"I","T":55,"v":-4884},{"p":"B","c":"I","T":57,"v":-4720},{"p":"B","c":"I","T":58,"v":-4600},{"p":"B","c":"I","T":60,"v":-4204},{"p":"B","c":"I","T":62,"v":-3796},{"p":"B","c":"I","T":64,"v":-3478},{"p":"B","c":"I","T":66,"v":-3220},{"p":"B","c":"I","T":68,"v":-3052},{"p":"B","c":"I","T":70,"v":-2952},{"p":"B","c":"I","T":73,"v":-2900},{"p":"B","c":"I","T":76,"v":-2880},{"p":"B","c":"I","T":80,"v":-2862},{"p":"B","c":"I","T":90,"v":-2825},{"p":"B","c":"I","T":100,"v":-2771},
{"p":"C","c":"D","T":10,"v":-9405},{"p":"C","c":"D","T":20,"v":-9165},{"p":"C","c":"D","T":30,"v":-8911},{"p":"C","c":"D","T":35,"v":-8760},{"p":"C","c":"D","T":40,"v":-8557},{"p":"C","c":"D","T":43,"v":-8380},{"p":"C","c":"D","T":45,"v":-8177},{"p":"C","c":"D","T":47,"v":-7900},{"p":"C","c":"D","T":48,"v":-7734},{"p":"C","c":"D","T":50,"v":-7228},{"p":"C","c":"D","T":52,"v":-6532},{"p":"C","c":"D","T":54,"v":-5835},{"p":"C","c":"D","T":56,"v":-5456},{"p":"C","c":"D","T":58,"v":-5291},{"p":"C","c":"D","T":60,"v":-5203},{"p":"C","c":"D","T":65,"v":-5060},{"p":"C","c":"D","T":70,"v":-4924},{"p":"C","c":"D","T":80,"v":-4696},{"p":"C","c":"D","T":90,"v":-4405},{"p":"C","c":"D","T":100,"v":-4127},
{"p":"C","c":"I","T":10,"v":-8835},{"p":"C","c":"I","T":15,"v":-8770},{"p":"C","c":"I","T":20,"v":-8658},{"p":"C","c":"I","T":25,"v":-8500},{"p":"C","c":"I","T":30,"v":-8304},{"p":"C","c":"I","T":35,"v":-7987},{"p":"C","c":"I","T":40,"v":-7544},{"p":"C","c":"I","T":45,"v":-7038},{"p":"C","c":"I","T":50,"v":-6468},{"p":"C","c":"I","T":55,"v":-5899},{"p":"C","c":"I","T":60,"v":-5392},{"p":"C","c":"I","T":65,"v":-5013},{"p":"C","c":"I","T":70,"v":-4759},{"p":"C","c":"I","T":75,"v":-4590},{"p":"C","c":"I","T":80,"v":-4443},{"p":"C","c":"I","T":90,"v":-4228},{"p":"C","c":"I","T":100,"v":-4063},
{"p":"D","c":"D","T":10,"v":-10171},{"p":"D","c":"D","T":20,"v":-9971},{"p":"D","c":"D","T":25,"v":-9840},{"p":"D","c":"D","T":30,"v":-9643},{"p":"D","c":"D","T":33,"v":-9480},{"p":"D","c":"D","T":35,"v":-9357},{"p":"D","c":"D","T":37,"v":-9150},{"p":"D","c":"D","T":38,"v":-9000},{"p":"D","c":"D","T":40,"v":-8643},{"p":"D","c":"D","T":42,"v":-8143},{"p":"D","c":"D","T":44,"v":-7643},{"p":"D","c":"D","T":46,"v":-7214},{"p":"D","c":"D","T":48,"v":-6929},{"p":"D","c":"D","T":50,"v":-6686},{"p":"D","c":"D","T":55,"v":-6286},{"p":"D","c":"D","T":60,"v":-6000},{"p":"D","c":"D","T":65,"v":-5790},{"p":"D","c":"D","T":70,"v":-5600},{"p":"D","c":"D","T":80,"v":-5214},{"p":"D","c":"D","T":90,"v":-4829},{"p":"D","c":"D","T":100,"v":-4357},
{"p":"D","c":"I","T":10,"v":-9429},{"p":"D","c":"I","T":20,"v":-9329},{"p":"D","c":"I","T":25,"v":-9214},{"p":"D","c":"I","T":30,"v":-9000},{"p":"D","c":"I","T":33,"v":-8750},{"p":"D","c":"I","T":35,"v":-8500},{"p":"D","c":"I","T":38,"v":-8071},{"p":"D","c":"I","T":40,"v":-7714},{"p":"D","c":"I","T":42,"v":-7286},{"p":"D","c":"I","T":44,"v":-6929},{"p":"D","c":"I","T":46,"v":-6643},{"p":"D","c":"I","T":50,"v":-6214},{"p":"D","c":"I","T":55,"v":-5786},{"p":"D","c":"I","T":60,"v":-5500},{"p":"D","c":"I","T":70,"v":-5143},{"p":"D","c":"I","T":80,"v":-4829},{"p":"D","c":"I","T":90,"v":-4500},{"p":"D","c":"I","T":100,"v":-4071},
{"p":"E","c":"D","T":68,"v":46.3},{"p":"E","c":"D","T":70,"v":44.7},{"p":"E","c":"D","T":72,"v":47.9},{"p":"E","c":"D","T":74,"v":57.7},{"p":"E","c":"D","T":76,"v":74},{"p":"E","c":"D","T":78,"v":93.6},{"p":"E","c":"D","T":80,"v":110},{"p":"E","c":"D","T":82,"v":119.8},{"p":"E","c":"D","T":85,"v":125.3},{"p":"E","c":"D","T":90,"v":128.6},{"p":"E","c":"D","T":95,"v":130.2},{"p":"E","c":"D","T":100,"v":132.8},
{"p":"E","c":"I","s":"1","T":10,"v":55.1},{"p":"E","c":"I","s":"1","T":20,"v":53.8},{"p":"E","c":"I","s":"1","T":30,"v":52.8},{"p":"E","c":"I","s":"1","T":40,"v":51.8},{"p":"E","c":"I","s":"1","T":50,"v":50.5},{"p":"E","c":"I","s":"1","T":60,"v":48.9},{"p":"E","c":"I","s":"1","T":63,"v":47.5},{"p":"E","c":"I","s":"1","T":65,"v":41.4},{"p":"E","c":"I","s":"1","T":67,"v":30},{"p":"E","c":"I","s":"1","T":69,"v":20.5},{"p":"E","c":"I","s":"1","T":70.5,"v":16.8},{"p":"E","c":"I","s":"1","T":72,"v":15},{"p":"E","c":"I","s":"1","T":73.5,"v":13},
{"p":"E","c":"I","s":"2","T":70.5,"v":12.6},{"p":"E","c":"I","s":"2","T":72,"v":15},{"p":"E","c":"I","s":"2","T":73.5,"v":18},{"p":"E","c":"I","s":"2","T":75,"v":21.8},{"p":"E","c":"I","s":"2","T":77,"v":36.5},{"p":"E","c":"I","s":"2","T":79,"v":52.8},{"p":"E","c":"I","s":"2","T":81,"v":65.9},{"p":"E","c":"I","s":"2","T":83,"v":72.4},{"p":"E","c":"I","s":"2","T":85,"v":75.7},{"p":"E","c":"I","s":"2","T":90,"v":80.6},{"p":"E","c":"I","s":"2","T":95,"v":85.5},{"p":"E","c":"I","s":"2","T":100,"v":91},
{"p":"F","c":"D","T":10,"v":-28.4},{"p":"F","c":"D","T":20,"v":-21.9},{"p":"F","c":"D","T":30,"v":-15.4},{"p":"F","c":"D","T":40,"v":-9.2},{"p":"F","c":"D","T":50,"v":-3.3},{"p":"F","c":"D","T":60,"v":2.6},{"p":"F","c":"D","T":65,"v":5.6},{"p":"F","c":"D","T":68,"v":9.2},{"p":"F","c":"D","T":70,"v":13.1},{"p":"F","c":"D","T":72,"v":21.3},{"p":"F","c":"D","T":74,"v":32.7},{"p":"F","c":"D","T":76,"v":47.4},{"p":"F","c":"D","T":78,"v":65.4},{"p":"F","c":"D","T":80,"v":80.1},{"p":"F","c":"D","T":82,"v":90.9},{"p":"F","c":"D","T":84,"v":96.5},{"p":"F","c":"D","T":86,"v":98.8},{"p":"F","c":"D","T":90,"v":100.7},{"p":"F","c":"D","T":100,"v":104.6},
{"p":"F","c":"I","T":10,"v":20.9},{"p":"F","c":"I","T":20,"v":26.2},{"p":"F","c":"I","T":30,"v":31.1},{"p":"F","c":"I","T":40,"v":36},{"p":"F","c":"I","T":50,"v":39.9},{"p":"F","c":"I","T":60,"v":44.1},{"p":"F","c":"I","T":65,"v":46.4},{"p":"F","c":"I","T":68,"v":50.7},{"p":"F","c":"I","T":70,"v":57.2},{"p":"F","c":"I","T":72,"v":67},{"p":"F","c":"I","T":74,"v":75.9},{"p":"F","c":"I","T":76,"v":80.8},{"p":"F","c":"I","T":80,"v":84},{"p":"F","c":"I","T":85,"v":86.7},{"p":"F","c":"I","T":90,"v":88.9},{"p":"F","c":"I","T":100,"v":93.9},
{"p":"G","c":"D","T":10,"v":-34.1},{"p":"G","c":"D","T":30,"v":-33.6},{"p":"G","c":"D","T":50,"v":-33.1},{"p":"G","c":"D","T":60,"v":-32.9},{"p":"G","c":"D","T":68,"v":-32.6},{"p":"G","c":"D","T":70,"v":-32.2},{"p":"G","c":"D","T":72,"v":-30.5},{"p":"G","c":"D","T":74,"v":-27.6},{"p":"G","c":"D","T":75,"v":-24.5},{"p":"G","c":"D","T":76,"v":-20.4},{"p":"G","c":"D","T":77,"v":-14.5},{"p":"G","c":"D","T":78,"v":-7.2},{"p":"G","c":"D","T":79,"v":2.4},{"p":"G","c":"D","T":80,"v":12},{"p":"G","c":"D","T":81,"v":17.5},{"p":"G","c":"D","T":82,"v":21.1},{"p":"G","c":"D","T":84,"v":25.2},{"p":"G","c":"D","T":86,"v":26.9},{"p":"G","c":"D","T":90,"v":28.8},{"p":"G","c":"D","T":100,"v":32.9},
{"p":"G","c":"I","s":"1","T":10,"v":1.2},{"p":"G","c":"I","s":"1","T":20,"v":1.2},{"p":"G","c":"I","s":"1","T":30,"v":1.4},{"p":"G","c":"I","s":"1","T":40,"v":1.5},{"p":"G","c":"I","s":"1","T":50,"v":1.4},{"p":"G","c":"I","s":"1","T":55,"v":0.5},{"p":"G","c":"I","s":"1","T":57,"v":-1.5},{"p":"G","c":"I","s":"1","T":59,"v":-4.5},{"p":"G","c":"I","s":"1","T":61,"v":-8.5},{"p":"G","c":"I","s":"1","T":63,"v":-12.5},{"p":"G","c":"I","s":"1","T":65,"v":-15.5},{"p":"G","c":"I","s":"1","T":67,"v":-17.8},{"p":"G","c":"I","s":"1","T":69,"v":-19.7},{"p":"G","c":"I","s":"1","T":71,"v":-21.5},{"p":"G","c":"I","s":"1","T":72.5,"v":-24},
{"p":"G","c":"I","s":"2","T":69.5,"v":-23.5},{"p":"G","c":"I","s":"2","T":70.8,"v":-20.4},{"p":"G","c":"I","s":"2","T":72.7,"v":-12},{"p":"G","c":"I","s":"2","T":74.7,"v":-2.4},{"p":"G","c":"I","s":"2","T":76.6,"v":7.2},{"p":"G","c":"I","s":"2","T":78.1,"v":14.4},{"p":"G","c":"I","s":"2","T":80,"v":16},{"p":"G","c":"I","s":"2","T":87.5,"v":19.7},{"p":"G","c":"I","s":"2","T":90,"v":20.9},{"p":"G","c":"I","s":"2","T":100,"v":26.4},
{"p":"H","c":"D","T":10,"v":-51.3},{"p":"H","c":"D","T":20,"v":-48.3},{"p":"H","c":"D","T":30,"v":-45.4},{"p":"H","c":"D","T":40,"v":-42.6},{"p":"H","c":"D","T":50,"v":-40},{"p":"H","c":"D","T":60,"v":-37.8},{"p":"H","c":"D","T":65,"v":-36.1},{"p":"H","c":"D","T":68,"v":-33.5},{"p":"H","c":"D","T":70,"v":-30.2},{"p":"H","c":"D","T":72,"v":-24.7},{"p":"H","c":"D","T":74,"v":-16},{"p":"H","c":"D","T":76,"v":-2.9},{"p":"H","c":"D","T":78,"v":14.5},{"p":"H","c":"D","T":80,"v":29.8},{"p":"H","c":"D","T":82,"v":40},{"p":"H","c":"D","T":84,"v":45.4},{"p":"H","c":"D","T":86,"v":47.6},{"p":"H","c":"D","T":90,"v":48.5},{"p":"H","c":"D","T":100,"v":48.5},
{"p":"H","c":"I","T":10,"v":-30},{"p":"H","c":"I","T":20,"v":-28},{"p":"H","c":"I","T":30,"v":-26.3},{"p":"H","c":"I","T":40,"v":-24.7},{"p":"H","c":"I","T":50,"v":-23.2},{"p":"H","c":"I","T":60,"v":-21.9},{"p":"H","c":"I","T":65,"v":-20.4},{"p":"H","c":"I","T":68,"v":-17.1},{"p":"H","c":"I","T":70,"v":-12.8},{"p":"H","c":"I","T":72,"v":-5.1},{"p":"H","c":"I","T":74,"v":5.8},{"p":"H","c":"I","T":76,"v":15.6},{"p":"H","c":"I","T":78,"v":21},{"p":"H","c":"I","T":80,"v":23.7},{"p":"H","c":"I","T":85,"v":28.7},{"p":"H","c":"I","T":90,"v":31.9},{"p":"H","c":"I","T":100,"v":38}
],
"raw":[
{"p":"A","c":"D","T":95,"v":-1600},{"p":"A","c":"D","T":98,"v":-1490},{"p":"A","c":"I","T":98,"v":-1740},
{"p":"B","c":"D","T":94,"v":-2100},{"p":"B","c":"D","T":98,"v":-1940},{"p":"B","c":"I","T":90,"v":-2640},{"p":"B","c":"I","T":92,"v":-2640},{"p":"B","c":"I","T":96,"v":-2300},{"p":"B","c":"I","T":98,"v":-2300},
{"p":"C","c":"I","T":96,"v":-3240},{"p":"C","c":"D","T":98,"v":-3850},
{"p":"E","c":"D","T":12,"v":16},{"p":"E","c":"D","T":14,"v":19},{"p":"E","c":"D","T":16,"v":23},{"p":"E","c":"D","T":18,"v":25},{"p":"E","c":"D","T":20,"v":28},{"p":"E","c":"D","T":22,"v":30},{"p":"E","c":"D","T":24,"v":31},{"p":"E","c":"D","T":26,"v":32},{"p":"E","c":"D","T":28,"v":33},{"p":"E","c":"D","T":30,"v":34},{"p":"E","c":"D","T":32,"v":35},{"p":"E","c":"D","T":34,"v":36},{"p":"E","c":"D","T":36,"v":38},{"p":"E","c":"D","T":38,"v":40},{"p":"E","c":"D","T":40,"v":41},{"p":"E","c":"D","T":42,"v":43},{"p":"E","c":"D","T":44,"v":45},{"p":"E","c":"D","T":46,"v":47},{"p":"E","c":"D","T":48,"v":49},{"p":"E","c":"D","T":50,"v":51},{"p":"E","c":"D","T":52,"v":52},{"p":"E","c":"D","T":54,"v":54},{"p":"E","c":"D","T":56,"v":56},{"p":"E","c":"D","T":58,"v":56},{"p":"E","c":"D","T":60,"v":55},{"p":"E","c":"D","T":62,"v":55},{"p":"E","c":"D","T":64,"v":54},{"p":"E","c":"D","T":66,"v":53},{"p":"E","c":"D","T":96,"v":143.6},{"p":"E","c":"D","T":98,"v":128},{"p":"E","c":"I","T":10,"v":43},{"p":"E","c":"I","T":94,"v":91},{"p":"E","c":"I","T":96,"v":89.7},{"p":"E","c":"I","T":98,"v":115},
{"p":"F","c":"I","T":10,"v":15},{"p":"F","c":"I","T":96,"v":114},{"p":"F","c":"I","T":98,"v":127},
{"p":"G","c":"D","T":12,"v":-42},{"p":"G","c":"D","T":16,"v":-41},{"p":"G","c":"D","T":20,"v":-40.5},{"p":"G","c":"D","T":24,"v":-40},{"p":"G","c":"D","T":28,"v":-39.5},{"p":"G","c":"D","T":32,"v":-38.5},{"p":"G","c":"D","T":36,"v":-37.5},{"p":"G","c":"D","T":40,"v":-38},{"p":"G","c":"D","T":44,"v":-35},{"p":"G","c":"D","T":48,"v":-34},{"p":"G","c":"D","T":52,"v":-30},{"p":"G","c":"D","T":56,"v":-29},{"p":"G","c":"D","T":60,"v":-29},{"p":"G","c":"D","T":98,"v":53},{"p":"G","c":"I","T":98,"v":35}
],
"ann":[
{"p":"A","c":"I","k":"tm","T":69.05,"v":-4044,"txt":"= 65°C"},{"p":"A","c":"D","k":"tm","T":69.05,"v":-4663,"txt":"= 64°C"},
{"p":"B","c":"D","k":"tm","T":29.9,"v":-3388,"txt":"= 64°C"},{"p":"B","c":"I","k":"tm","T":64.1,"v":-4204,"txt":"= 62°C"},
{"p":"C","c":"I","k":"tm","T":64.3,"v":-5835,"txt":"= 51°C"},{"p":"C","c":"D","k":"tm","T":52.7,"v":-7190,"txt":"= 51°C"},
{"p":"D","c":"I","k":"tm","T":11.7,"v":-6643,"txt":"= 41°C"},{"p":"D","c":"D","k":"tm","T":46.8,"v":-8329,"txt":"= 42°C"},
{"p":"E","c":"D","k":"tm","T":41.6,"v":74.7,"txt":"= 77°C"},{"p":"E","c":"I","k":"pl","T":79.6,"v":39.8,"txt":"78°C"},{"p":"E","c":"I","k":"tm","T":32.8,"v":17.9,"txt":"= 67°C"},
{"p":"F","c":"I","k":"tm","T":37.4,"v":66,"txt":"= 72°C"},{"p":"F","c":"D","k":"pl","T":78.9,"v":37.6,"txt":"78°C"},
{"p":"G","c":"I","k":"tm","T":42.8,"v":10.8,"txt":"= 76°C"},{"p":"G","c":"I","k":"tm","T":27.5,"v":-22.8,"txt":"= 63°C"},{"p":"G","c":"D","k":"pl","T":79.8,"v":-7.2,"txt":"78°C"},
{"p":"H","c":"I","k":"tm","T":40,"v":5.3,"txt":"= 74°C"},{"p":"H","c":"D","k":"tm","T":65.2,"v":-53.1,"txt":"= 78°C"}
]
},
"columns":4,"spacing":{"row":59,"column":77},"bounds":"flush",
"resolve":{"scale":{"shape":"independent","color":"independent","fill":"independent","stroke":"independent"},"legend":{"shape":"independent","fill":"independent","stroke":"independent"}},
"concat":[
{"width":232,"height":183,"resolve":{"axis":{"x":"independent","y":"independent"}},
"layer":[
{"data":{"values":[{}]},"mark":{"type":"rect","color":"#fdf8f0"},"encoding":{"x":{"datum":-32.28,"type":"quantitative","scale":{"domain":[10,100],"nice":false,"zero":false},"axis":null},"x2":{"datum":129.87},"y":{"datum":-855,"type":"quantitative","scale":{"domain":[-7000,-1050],"nice":false,"zero":false},"axis":null},"y2":{"datum":-8528}}},
{"data":{"name":"exp"},"transform":[{"filter":"datum.p==='A'"}],"mark":{"type":"point","filled":false,"size":20,"strokeWidth":0.8,"opacity":0.75},"encoding":{"x":{"field":"T","type":"quantitative","scale":{"domain":[10,100],"nice":false,"zero":false},"axis":{"orient":"bottom","zindex":1,"title":"Temp (°C)","values":[10,20,30,40,50,60,70,80,90,100],"labelPadding":15.6,"labelBaseline":"middle","titleY":31,"titleBaseline":"middle"}},"y":{"field":"v","type":"quantitative","scale":{"domain":[-7000,-1050],"nice":false,"zero":false},"axis":{"orient":"left","zindex":1,"title":"[θ]222 nm (deg cm² dmol⁻¹)","values":[-6000,-5000,-4000,-3000,-2000],"labelPadding":8,"labelExpr":"replace(datum.label,'−','-')","titleX":-52,"titleY":91.5,"titleBaseline":"middle"}},"color":{"field":"c","type":"nominal","scale":{"domain":["D","I"],"range":["#000000","#ff0000"]},"legend":null}}},
{"data":{"name":"exp"},"transform":[{"filter":"datum.p==='A'"}],"mark":{"type":"circle","size":1.5,"opacity":1},"encoding":{"x":{"field":"T","type":"quantitative","scale":{"domain":[10,100],"nice":false,"zero":false},"axis":null},"y":{"field":"v","type":"quantitative","scale":{"domain":[-7000,-1050],"nice":false,"zero":false},"axis":null},"color":{"field":"c","type":"nominal","scale":{"domain":["D","I"],"range":["#000000","#ff0000"]},"legend":null}}},
{"data":{"name":"raw"},"transform":[{"filter":"datum.p==='A'"}],"mark":{"type":"circle","size":2.5,"opacity":1},"encoding":{"x":{"field":"T","type":"quantitative","scale":{"domain":[10,100],"nice":false,"zero":false},"axis":null},"y":{"field":"v","type":"quantitative","scale":{"domain":[-7000,-1050],"nice":false,"zero":false},"axis":null},"color":{"field":"c","type":"nominal","scale":{"domain":["D","I"],"range":["#000000","#ff0000"]},"legend":null}}},
{"data":{"name":"fit"},"transform":[{"filter":"datum.p==='A'"}],"mark":{"type":"line","strokeWidth":1.5,"interpolate":"monotone"},"encoding":{"x":{"field":"T","type":"quantitative","scale":{"domain":[10,100],"nice":false,"zero":false},"axis":{"orient":"top","zindex":1,"labels":false,"title":null,"values":[10,20,30,40,50,60,70,80,90,100]}},"y":{"field":"v","type":"quantitative","scale":{"domain":[-7000,-1050],"nice":false,"zero":false},"axis":{"orient":"right","zindex":1,"labels":false,"title":null,"values":[-6000,-5000,-4000,-3000,-2000]}},"color":{"field":"c","type":"nominal","scale":{"domain":["D","I"],"range":["#000000","#ff0000"]},"legend":null},"detail":{"field":"s","type":"nominal"}}},
{"data":{"name":"ann"},"transform":[{"filter":"datum.p==='A' && datum.k==='tm'"}],"mark":{"type":"text","text":"T","align":"left","baseline":"alphabetic","fontSize":15},"encoding":{"x":{"field":"T","type":"quantitative","scale":{"domain":[10,100],"nice":false,"zero":false},"axis":null},"y":{"field":"v","type":"quantitative","scale":{"domain":[-7000,-1050],"nice":false,"zero":false},"axis":null},"color":{"field":"c","type":"nominal","scale":{"domain":["D","I"],"range":["#000000","#ff0000"]},"legend":null}}},
{"data":{"name":"ann"},"transform":[{"filter":"datum.p==='A' && datum.k==='tm'"}],"mark":{"type":"text","text":"m","align":"left","baseline":"alphabetic","fontSize":15,"dx":9.2,"dy":3},"encoding":{"x":{"field":"T","type":"quantitative","scale":{"domain":[10,100],"nice":false,"zero":false},"axis":null},"y":{"field":"v","type":"quantitative","scale":{"domain":[-7000,-1050],"nice":false,"zero":false},"axis":null},"color":{"field":"c","type":"nominal","scale":{"domain":["D","I"],"range":["#000000","#ff0000"]},"legend":null}}},
{"data":{"name":"ann"},"transform":[{"filter":"datum.p==='A' && datum.k==='tm'"}],"mark":{"type":"text","align":"left","baseline":"alphabetic","fontSize":15,"dx":25.9},"encoding":{"x":{"field":"T","type":"quantitative","scale":{"domain":[10,100],"nice":false,"zero":false},"axis":null},"y":{"field":"v","type":"quantitative","scale":{"domain":[-7000,-1050],"nice":false,"zero":false},"axis":null},"text":{"field":"txt"},"color":{"field":"c","type":"nominal","scale":{"domain":["D","I"],"range":["#000000","#ff0000"]},"legend":null}}},
{"data":{"values":[{}]},"mark":{"type":"text","text":"A","fontSize":20,"fontWeight":"bold","align":"left","baseline":"alphabetic","dx":-35,"dy":7,"color":"#000000"},"encoding":{"x":{"datum":10,"type":"quantitative","scale":{"domain":[10,100],"nice":false,"zero":false},"axis":null},"y":{"datum":-1050,"type":"quantitative","scale":{"domain":[-7000,-1050],"nice":false,"zero":false},"axis":null}}},
{"data":{"values":[{}]},"mark":{"type":"text","text":"CBD-PHY","fontSize":19,"align":"center","baseline":"alphabetic","dy":-11.3,"color":"#000000"},"encoding":{"x":{"datum":55,"type":"quantitative","scale":{"domain":[10,100],"nice":false,"zero":false},"axis":null},"y":{"datum":-1050,"type":"quantitative","scale":{"domain":[-7000,-1050],"nice":false,"zero":false},"axis":null}}},
{"data":{"values":[{}]},"mark":{"type":"text","text":"Secondary structure","angle":270,"fontSize":19.5,"fontWeight":"bold","color":"#7f4f14","align":"center","baseline":"middle"},"encoding":{"x":{"datum":-25.7,"type":"quantitative","scale":{"domain":[10,100],"nice":false,"zero":false},"axis":null},"y":{"datum":-4496,"type":"quantitative","scale":{"domain":[-7000,-1050],"nice":false,"zero":false},"axis":null}}},
{"data":{"values":[{"leg":"Experimental"},{"leg":"Fit"},{"leg":"Dark"},{"leg":"Illuminated"}]},"mark":{"type":"point","filled":true,"opacity":1},"encoding":{"x":{"field":"T","type":"quantitative","scale":{"domain":[10,100],"nice":false,"zero":false},"axis":null},"y":{"field":"v","type":"quantitative","scale":{"domain":[-7000,-1050],"nice":false,"zero":false},"axis":null},
"shape":{"field":"leg","type":"nominal","scale":{"domain":["Experimental","Fit","Dark","Illuminated"],"range":["M-0.236,0A0.236,0.236,0,1,1,0.236,0A0.236,0.236,0,1,1,-0.236,0Z","M-1,0H1","M0.047,0A0.33,0.33,0,1,1,0.707,0A0.33,0.33,0,1,1,0.047,0Z","M0.047,0A0.33,0.33,0,1,1,0.707,0A0.33,0.33,0,1,1,0.047,0Z"]},"legend":{"title":null,"orient":"none","direction":"vertical","legendX":4.9,"legendY":29.7,"labelFontSize":15,"labelOffset":3.9,"rowPadding":3.4,"padding":0,"clipHeight":16,"symbolSize":450,"symbolStrokeWidth":1.4,"zindex":1,"labelColor":{"expr":"datum.value === 'Illuminated' ? '#ff0000' : '#000000'"}}},
"fill":{"field":"leg","type":"nominal","scale":{"domain":["Experimental","Fit","Dark","Illuminated"],"range":["transparent","transparent","#000000","#ff0000"]}},
"stroke":{"field":"leg","type":"nominal","scale":{"domain":["Experimental","Fit","Dark","Illuminated"],"range":["#666666","#666666","#000000","#ff0000"]}}}}
]},
{"width":233,"height":183,"resolve":{"axis":{"x":"independent","y":"independent"}},
"layer":[
{"data":{"values":[{}]},"mark":{"type":"rect","color":"#fdf8f0"},"encoding":{"x":{"datum":10,"type":"quantitative","scale":{"domain":[10,100],"nice":false,"zero":false},"axis":null},"x2":{"datum":129.74},"y":{"datum":-1336,"type":"quantitative","scale":{"domain":[-6500,-1500],"nice":false,"zero":false},"axis":null},"y2":{"datum":-7784}}},
{"data":{"name":"exp"},"transform":[{"filter":"datum.p==='B'"}],"mark":{"type":"point","filled":false,"size":20,"strokeWidth":0.8,"opacity":0.75},"encoding":{"x":{"field":"T","type":"quantitative","scale":{"domain":[10,100],"nice":false,"zero":false},"axis":{"orient":"bottom","zindex":1,"title":"Temp (°C)","values":[10,20,30,40,50,60,70,80,90,100],"labelPadding":15.6,"labelBaseline":"middle","titleY":31,"titleBaseline":"middle"}},"y":{"field":"v","type":"quantitative","scale":{"domain":[-6500,-1500],"nice":false,"zero":false},"axis":{"orient":"left","zindex":1,"title":"[θ]222 nm (deg cm² dmol⁻¹)","values":[-6000,-5000,-4000,-3000,-2000],"labelPadding":8,"labelExpr":"replace(datum.label,'−','-')","titleX":-59,"titleY":91.5,"titleBaseline":"middle"}},"color":{"field":"c","type":"nominal","scale":{"domain":["D","I"],"range":["#000000","#ff0000"]},"legend":null}}},
{"data":{"name":"exp"},"transform":[{"filter":"datum.p==='B'"}],"mark":{"type":"circle","size":1.5,"opacity":1},"encoding":{"x":{"field":"T","type":"quantitative","scale":{"domain":[10,100],"nice":false,"zero":false},"axis":null},"y":{"field":"v","type":"quantitative","scale":{"domain":[-6500,-1500],"nice":false,"zero":false},"axis":null},"color":{"field":"c","type":"nominal","scale":{"domain":["D","I"],"range":["#000000","#ff0000"]},"legend":null}}},
{"data":{"name":"raw"},"transform":[{"filter":"datum.p==='B'"}],"mark":{"type":"circle","size":2.5,"opacity":1},"encoding":{"x":{"field":"T","type":"quantitative","scale":{"domain":[10,100],"nice":false,"zero":false},"axis":null},"y":{"field":"v","type":"quantitative","scale":{"domain":[-6500,-1500],"nice":false,"zero":false},"axis":null},"color":{"field":"c","type":"nominal","scale":{"domain":["D","I"],"range":["#000000","#ff0000"]},"legend":null}}},
{"data":{"name":"fit"},"transform":[{"filter":"datum.p==='B'"}],"mark":{"type":"line","strokeWidth":1.5,"interpolate":"monotone"},"encoding":{"x":{"field":"T","type":"quantitative","scale":{"domain":[10,100],"nice":false,"zero":false},"axis":{"orient":"top","zindex":1,"labels":false,"title":null,"values":[10,20,30,40,50,60,70,80,90,100]}},"y":{"field":"v","type":"quantitative","scale":{"domain":[-6500,-1500],"nice":false,"zero":false},"axis":{"orient":"right","zindex":1,"labels":false,"title":null,"values":[-6000,-5000,-4000,-3000,-2000]}},"color":{"field":"c","type":"nominal","scale":{"domain":["D","I"],"range":["#000000","#ff0000"]},"legend":null},"detail":{"field":"s","type":"nominal"}}},
{"data":{"name":"ann"},"transform":[{"filter":"datum.p==='B' && datum.k==='tm'"}],"mark":{"type":"text","text":"T","align":"left","baseline":"alphabetic","fontSize":15},"encoding":{"x":{"field":"T","type":"quantitative","scale":{"domain":[10,100],"nice":false,"zero":false},"axis":null},"y":{"field":"v","type":"quantitative","scale":{"domain":[-6500,-1500],"nice":false,"zero":false},"axis":null},"color":{"field":"c","type":"nominal","scale":{"domain":["D","I"],"range":["#000000","#ff0000"]},"legend":null}}},
{"data":{"name":"ann"},"transform":[{"filter":"datum.p==='B' && datum.k==='tm'"}],"mark":{"type":"text","text":"m","align":"left","baseline":"alphabetic","fontSize":15,"dx":9.2,"dy":3},"encoding":{"x":{"field":"T","type":"quantitative","scale":{"domain":[10,100],"nice":false,"zero":false},"axis":null},"y":{"field":"v","type":"quantitative","scale":{"domain":[-6500,-1500],"nice":false,"zero":false},"axis":null},"color":{"field":"c","type":"nominal","scale":{"domain":["D","I"],"range":["#000000","#ff0000"]},"legend":null}}},
{"data":{"name":"ann"},"transform":[{"filter":"datum.p==='B' && datum.k==='tm'"}],"mark":{"type":"text","align":"left","baseline":"alphabetic","fontSize":15,"dx":25.9},"encoding":{"x":{"field":"T","type":"quantitative","scale":{"domain":[10,100],"nice":false,"zero":false},"axis":null},"y":{"field":"v","type":"quantitative","scale":{"domain":[-6500,-1500],"nice":false,"zero":false},"axis":null},"text":{"field":"txt"},"color":{"field":"c","type":"nominal","scale":{"domain":["D","I"],"range":["#000000","#ff0000"]},"legend":null}}},
{"data":{"values":[{}]},"mark":{"type":"text","text":"B","fontSize":20,"fontWeight":"bold","align":"left","baseline":"alphabetic","dx":-40,"dy":6,"color":"#000000"},"encoding":{"x":{"datum":10,"type":"quantitative","scale":{"domain":[10,100],"nice":false,"zero":false},"axis":null},"y":{"datum":-1500,"type":"quantitative","scale":{"domain":[-6500,-1500],"nice":false,"zero":false},"axis":null}}},
{"data":{"values":[{}]},"mark":{"type":"text","text":"CBD-PHY armless","fontSize":19,"align":"center","baseline":"alphabetic","dy":-11.3,"color":"#000000"},"encoding":{"x":{"datum":55,"type":"quantitative","scale":{"domain":[10,100],"nice":false,"zero":false},"axis":null},"y":{"datum":-1500,"type":"quantitative","scale":{"domain":[-6500,-1500],"nice":false,"zero":false},"axis":null}}}
]},
{"width":233,"height":183,"resolve":{"axis":{"x":"independent","y":"independent"}},
"layer":[
{"data":{"values":[{}]},"mark":{"type":"rect","color":"#fdf8f0"},"encoding":{"x":{"datum":10,"type":"quantitative","scale":{"domain":[10,100],"nice":false,"zero":false},"axis":null},"x2":{"datum":129.74},"y":{"datum":-2770,"type":"quantitative","scale":{"domain":[-10000,-3000],"nice":false,"zero":false},"axis":null},"y2":{"datum":-11798}}},
{"data":{"name":"exp"},"transform":[{"filter":"datum.p==='C'"}],"mark":{"type":"point","filled":false,"size":20,"strokeWidth":0.8,"opacity":0.75},"encoding":{"x":{"field":"T","type":"quantitative","scale":{"domain":[10,100],"nice":false,"zero":false},"axis":{"orient":"bottom","zindex":1,"title":"Temp (°C)","values":[10,20,30,40,50,60,70,80,90,100],"labelPadding":15.6,"labelBaseline":"middle","titleY":31,"titleBaseline":"middle"}},"y":{"field":"v","type":"quantitative","scale":{"domain":[-10000,-3000],"nice":false,"zero":false},"axis":{"orient":"left","zindex":1,"title":"[θ]222 nm (deg cm² dmol⁻¹)","values":[-9000,-8000,-7000,-6000,-5000,-4000],"labelPadding":8,"labelExpr":"replace(datum.label,'−','-')","titleX":-58,"titleY":91.5,"titleBaseline":"middle"}},"color":{"field":"c","type":"nominal","scale":{"domain":["D","I"],"range":["#000000","#ff0000"]},"legend":null}}},
{"data":{"name":"exp"},"transform":[{"filter":"datum.p==='C'"}],"mark":{"type":"circle","size":1.5,"opacity":1},"encoding":{"x":{"field":"T","type":"quantitative","scale":{"domain":[10,100],"nice":false,"zero":false},"axis":null},"y":{"field":"v","type":"quantitative","scale":{"domain":[-10000,-3000],"nice":false,"zero":false},"axis":null},"color":{"field":"c","type":"nominal","scale":{"domain":["D","I"],"range":["#000000","#ff0000"]},"legend":null}}},
{"data":{"name":"raw"},"transform":[{"filter":"datum.p==='C'"}],"mark":{"type":"circle","size":2.5,"opacity":1},"encoding":{"x":{"field":"T","type":"quantitative","scale":{"domain":[10,100],"nice":false,"zero":false},"axis":null},"y":{"field":"v","type":"quantitative","scale":{"domain":[-10000,-3000],"nice":false,"zero":false},"axis":null},"color":{"field":"c","type":"nominal","scale":{"domain":["D","I"],"range":["#000000","#ff0000"]},"legend":null}}},
{"data":{"name":"fit"},"transform":[{"filter":"datum.p==='C'"}],"mark":{"type":"line","strokeWidth":1.5,"interpolate":"monotone"},"encoding":{"x":{"field":"T","type":"quantitative","scale":{"domain":[10,100],"nice":false,"zero":false},"axis":{"orient":"top","zindex":1,"labels":false,"title":null,"values":[10,20,30,40,50,60,70,80,90,100]}},"y":{"field":"v","type":"quantitative","scale":{"domain":[-10000,-3000],"nice":false,"zero":false},"axis":{"orient":"right","zindex":1,"labels":false,"title":null,"values":[-9000,-8000,-7000,-6000,-5000,-4000]}},"color":{"field":"c","type":"nominal","scale":{"domain":["D","I"],"range":["#000000","#ff0000"]},"legend":null},"detail":{"field":"s","type":"nominal"}}},
{"data":{"name":"ann"},"transform":[{"filter":"datum.p==='C' && datum.k==='tm'"}],"mark":{"type":"text","text":"T","align":"left","baseline":"alphabetic","fontSize":15},"encoding":{"x":{"field":"T","type":"quantitative","scale":{"domain":[10,100],"nice":false,"zero":false},"axis":null},"y":{"field":"v","type":"quantitative","scale":{"domain":[-10000,-3000],"nice":false,"zero":false},"axis":null},"color":{"field":"c","type":"nominal","scale":{"domain":["D","I"],"range":["#000000","#ff0000"]},"legend":null}}},
{"data":{"name":"ann"},"transform":[{"filter":"datum.p==='C' && datum.k==='tm'"}],"mark":{"type":"text","text":"m","align":"left","baseline":"alphabetic","fontSize":15,"dx":9.2,"dy":3},"encoding":{"x":{"field":"T","type":"quantitative","scale":{"domain":[10,100],"nice":false,"zero":false},"axis":null},"y":{"field":"v","type":"quantitative","scale":{"domain":[-10000,-3000],"nice":false,"zero":false},"axis":null},"color":{"field":"c","type":"nominal","scale":{"domain":["D","I"],"range":["#000000","#ff0000"]},"legend":null}}},
{"data":{"name":"ann"},"transform":[{"filter":"datum.p==='C' && datum.k==='tm'"}],"mark":{"type":"text","align":"left","baseline":"alphabetic","fontSize":15,"dx":25.9},"encoding":{"x":{"field":"T","type":"quantitative","scale":{"domain":[10,100],"nice":false,"zero":false},"axis":null},"y":{"field":"v","type":"quantitative","scale":{"domain":[-10000,-3000],"nice":false,"zero":false},"axis":null},"text":{"field":"txt"},"color":{"field":"c","type":"nominal","scale":{"domain":["D","I"],"range":["#000000","#ff0000"]},"legend":null}}},
{"data":{"values":[{}]},"mark":{"type":"text","text":"C","fontSize":20,"fontWeight":"bold","align":"left","baseline":"alphabetic","dx":-41,"dy":5,"color":"#000000"},"encoding":{"x":{"datum":10,"type":"quantitative","scale":{"domain":[10,100],"nice":false,"zero":false},"axis":null},"y":{"datum":-3000,"type":"quantitative","scale":{"domain":[-10000,-3000],"nice":false,"zero":false},"axis":null}}},
{"data":{"values":[{}]},"mark":{"type":"text","text":"FL","fontSize":19,"align":"center","baseline":"alphabetic","dy":-11.3,"color":"#000000"},"encoding":{"x":{"datum":55,"type":"quantitative","scale":{"domain":[10,100],"nice":false,"zero":false},"axis":null},"y":{"datum":-3000,"type":"quantitative","scale":{"domain":[-10000,-3000],"nice":false,"zero":false},"axis":null}}}
]},
{"width":232,"height":183,"resolve":{"axis":{"x":"independent","y":"independent"}},
"layer":[
{"data":{"values":[{}]},"mark":{"type":"rect","color":"#fdf8f0"},"encoding":{"x":{"datum":10,"type":"quantitative","scale":{"domain":[10,100],"nice":false,"zero":false},"axis":null},"x2":{"datum":108.53},"y":{"datum":-2738,"type":"quantitative","scale":{"domain":[-11000,-3000],"nice":false,"zero":false},"axis":null},"y2":{"datum":-13055}}},
{"data":{"name":"exp"},"transform":[{"filter":"datum.p==='D'"}],"mark":{"type":"point","filled":false,"size":20,"strokeWidth":0.8,"opacity":0.75},"encoding":{"x":{"field":"T","type":"quantitative","scale":{"domain":[10,100],"nice":false,"zero":false},"axis":{"orient":"bottom","zindex":1,"title":"Temp (°C)","values":[10,20,30,40,50,60,70,80,90,100],"labelPadding":15.6,"labelBaseline":"middle","titleY":31,"titleBaseline":"middle"}},"y":{"field":"v","type":"quantitative","scale":{"domain":[-11000,-3000],"nice":false,"zero":false},"axis":{"orient":"left","zindex":1,"title":"[θ]222 nm (deg cm² dmol⁻¹)","values":[-10000,-9000,-8000,-7000,-6000,-5000,-4000],"labelPadding":8,"labelExpr":"replace(datum.label,'−','-')","titleX":-59,"titleY":91.5,"titleBaseline":"middle"}},"color":{"field":"c","type":"nominal","scale":{"domain":["D","I"],"range":["#000000","#ff0000"]},"legend":null}}},
{"data":{"name":"exp"},"transform":[{"filter":"datum.p==='D'"}],"mark":{"type":"circle","size":1.5,"opacity":1},"encoding":{"x":{"field":"T","type":"quantitative","scale":{"domain":[10,100],"nice":false,"zero":false},"axis":null},"y":{"field":"v","type":"quantitative","scale":{"domain":[-11000,-3000],"nice":false,"zero":false},"axis":null},"color":{"field":"c","type":"nominal","scale":{"domain":["D","I"],"range":["#000000","#ff0000"]},"legend":null}}},
{"data":{"name":"fit"},"transform":[{"filter":"datum.p==='D'"}],"mark":{"type":"line","strokeWidth":1.5,"interpolate":"monotone"},"encoding":{"x":{"field":"T","type":"quantitative","scale":{"domain":[10,100],"nice":false,"zero":false},"axis":{"orient":"top","zindex":1,"labels":false,"title":null,"values":[10,20,30,40,50,60,70,80,90,100]}},"y":{"field":"v","type":"quantitative","scale":{"domain":[-11000,-3000],"nice":false,"zero":false},"axis":{"orient":"right","zindex":1,"labels":false,"title":null,"values":[-10000,-9000,-8000,-7000,-6000,-5000,-4000]}},"color":{"field":"c","type":"nominal","scale":{"domain":["D","I"],"range":["#000000","#ff0000"]},"legend":null},"detail":{"field":"s","type":"nominal"}}},
{"data":{"name":"ann"},"transform":[{"filter":"datum.p==='D' && datum.k==='tm'"}],"mark":{"type":"text","text":"T","align":"left","baseline":"alphabetic","fontSize":15},"encoding":{"x":{"field":"T","type":"quantitative","scale":{"domain":[10,100],"nice":false,"zero":false},"axis":null},"y":{"field":"v","type":"quantitative","scale":{"domain":[-11000,-3000],"nice":false,"zero":false},"axis":null},"color":{"field":"c","type":"nominal","scale":{"domain":["D","I"],"range":["#000000","#ff0000"]},"legend":null}}},
{"data":{"name":"ann"},"transform":[{"filter":"datum.p==='D' && datum.k==='tm'"}],"mark":{"type":"text","text":"m","align":"left","baseline":"alphabetic","fontSize":15,"dx":9.2,"dy":3},"encoding":{"x":{"field":"T","type":"quantitative","scale":{"domain":[10,100],"nice":false,"zero":false},"axis":null},"y":{"field":"v","type":"quantitative","scale":{"domain":[-11000,-3000],"nice":false,"zero":false},"axis":null},"color":{"field":"c","type":"nominal","scale":{"domain":["D","I"],"range":["#000000","#ff0000"]},"legend":null}}},
{"data":{"name":"ann"},"transform":[{"filter":"datum.p==='D' && datum.k==='tm'"}],"mark":{"type":"text","align":"left","baseline":"alphabetic","fontSize":15,"dx":25.9},"encoding":{"x":{"field":"T","type":"quantitative","scale":{"domain":[10,100],"nice":false,"zero":false},"axis":null},"y":{"field":"v","type":"quantitative","scale":{"domain":[-11000,-3000],"nice":false,"zero":false},"axis":null},"text":{"field":"txt"},"color":{"field":"c","type":"nominal","scale":{"domain":["D","I"],"range":["#000000","#ff0000"]},"legend":null}}},
{"data":{"values":[{}]},"mark":{"type":"text","text":"D","fontSize":20,"fontWeight":"bold","align":"left","baseline":"alphabetic","dx":-33,"dy":7,"color":"#000000"},"encoding":{"x":{"datum":10,"type":"quantitative","scale":{"domain":[10,100],"nice":false,"zero":false},"axis":null},"y":{"datum":-3000,"type":"quantitative","scale":{"domain":[-11000,-3000],"nice":false,"zero":false},"axis":null}}},
{"data":{"values":[{}]},"mark":{"type":"text","text":"FL armless","fontSize":19,"align":"center","baseline":"alphabetic","dy":-11.3,"color":"#000000"},"encoding":{"x":{"datum":55,"type":"quantitative","scale":{"domain":[10,100],"nice":false,"zero":false},"axis":null},"y":{"datum":-3000,"type":"quantitative","scale":{"domain":[-11000,-3000],"nice":false,"zero":false},"axis":null}}}
]},
{"width":232,"height":183,"resolve":{"axis":{"x":"independent","y":"independent"}},
"layer":[
{"data":{"values":[{}]},"mark":{"type":"rect","color":"#eef6fd"},"encoding":{"x":{"datum":-32.28,"type":"quantitative","scale":{"domain":[10,100],"nice":false,"zero":false},"axis":null},"x2":{"datum":129.87},"y":{"datum":162.9,"type":"quantitative","scale":{"domain":[-25,155],"nice":false,"zero":false},"axis":null},"y2":{"datum":-73.2}}},
{"data":{"name":"exp"},"transform":[{"filter":"datum.p==='E'"}],"mark":{"type":"point","filled":false,"size":20,"strokeWidth":0.8,"opacity":0.75},"encoding":{"x":{"field":"T","type":"quantitative","scale":{"domain":[10,100],"nice":false,"zero":false},"axis":{"orient":"bottom","zindex":1,"title":"Temp (°C)","values":[10,20,30,40,50,60,70,80,90,100],"labelPadding":19.7,"labelBaseline":"middle","titleY":37.7,"titleBaseline":"middle"}},"y":{"field":"v","type":"quantitative","scale":{"domain":[-25,155],"nice":false,"zero":false},"axis":{"orient":"left","zindex":1,"title":"[θ]281 nm (deg cm² dmol⁻¹)","values":[-20,0,20,40,60,80,100,120,140],"labelPadding":8,"labelExpr":"replace(datum.label,'−','-')","titleX":-54,"titleY":91.5,"titleBaseline":"middle"}},"color":{"field":"c","type":"nominal","scale":{"domain":["D","I"],"range":["#000000","#ff0000"]},"legend":null}}},
{"data":{"name":"exp"},"transform":[{"filter":"datum.p==='E'"}],"mark":{"type":"circle","size":1.5,"opacity":1},"encoding":{"x":{"field":"T","type":"quantitative","scale":{"domain":[10,100],"nice":false,"zero":false},"axis":null},"y":{"field":"v","type":"quantitative","scale":{"domain":[-25,155],"nice":false,"zero":false},"axis":null},"color":{"field":"c","type":"nominal","scale":{"domain":["D","I"],"range":["#000000","#ff0000"]},"legend":null}}},
{"data":{"name":"raw"},"transform":[{"filter":"datum.p==='E'"}],"mark":{"type":"circle","size":2.5,"opacity":1},"encoding":{"x":{"field":"T","type":"quantitative","scale":{"domain":[10,100],"nice":false,"zero":false},"axis":null},"y":{"field":"v","type":"quantitative","scale":{"domain":[-25,155],"nice":false,"zero":false},"axis":null},"color":{"field":"c","type":"nominal","scale":{"domain":["D","I"],"range":["#000000","#ff0000"]},"legend":null}}},
{"data":{"name":"fit"},"transform":[{"filter":"datum.p==='E'"}],"mark":{"type":"line","strokeWidth":1.5,"interpolate":"monotone"},"encoding":{"x":{"field":"T","type":"quantitative","scale":{"domain":[10,100],"nice":false,"zero":false},"axis":{"orient":"top","zindex":1,"labels":false,"title":null,"values":[10,20,30,40,50,60,70,80,90,100]}},"y":{"field":"v","type":"quantitative","scale":{"domain":[-25,155],"nice":false,"zero":false},"axis":{"orient":"right","zindex":1,"labels":false,"title":null,"values":[-20,0,20,40,60,80,100,120,140]}},"color":{"field":"c","type":"nominal","scale":{"domain":["D","I"],"range":["#000000","#ff0000"]},"legend":null},"detail":{"field":"s","type":"nominal"}}},
{"data":{"name":"ann"},"transform":[{"filter":"datum.p==='E' && datum.k==='tm'"}],"mark":{"type":"text","text":"T","align":"left","baseline":"alphabetic","fontSize":15},"encoding":{"x":{"field":"T","type":"quantitative","scale":{"domain":[10,100],"nice":false,"zero":false},"axis":null},"y":{"field":"v","type":"quantitative","scale":{"domain":[-25,155],"nice":false,"zero":false},"axis":null},"color":{"field":"c","type":"nominal","scale":{"domain":["D","I"],"range":["#000000","#ff0000"]},"legend":null}}},
{"data":{"name":"ann"},"transform":[{"filter":"datum.p==='E' && datum.k==='tm'"}],"mark":{"type":"text","text":"m","align":"left","baseline":"alphabetic","fontSize":15,"dx":9.2,"dy":3},"encoding":{"x":{"field":"T","type":"quantitative","scale":{"domain":[10,100],"nice":false,"zero":false},"axis":null},"y":{"field":"v","type":"quantitative","scale":{"domain":[-25,155],"nice":false,"zero":false},"axis":null},"color":{"field":"c","type":"nominal","scale":{"domain":["D","I"],"range":["#000000","#ff0000"]},"legend":null}}},
{"data":{"name":"ann"},"transform":[{"filter":"datum.p==='E' && datum.k==='tm'"}],"mark":{"type":"text","align":"left","baseline":"alphabetic","fontSize":15,"dx":25.9},"encoding":{"x":{"field":"T","type":"quantitative","scale":{"domain":[10,100],"nice":false,"zero":false},"axis":null},"y":{"field":"v","type":"quantitative","scale":{"domain":[-25,155],"nice":false,"zero":false},"axis":null},"text":{"field":"txt"},"color":{"field":"c","type":"nominal","scale":{"domain":["D","I"],"range":["#000000","#ff0000"]},"legend":null}}},
{"data":{"name":"ann"},"transform":[{"filter":"datum.p==='E' && datum.k==='pl'"}],"mark":{"type":"text","align":"left","baseline":"alphabetic","fontSize":15},"encoding":{"x":{"field":"T","type":"quantitative","scale":{"domain":[10,100],"nice":false,"zero":false},"axis":null},"y":{"field":"v","type":"quantitative","scale":{"domain":[-25,155],"nice":false,"zero":false},"axis":null},"text":{"field":"txt"},"color":{"field":"c","type":"nominal","scale":{"domain":["D","I"],"range":["#000000","#ff0000"]},"legend":null}}},
{"data":{"values":[{}]},"mark":{"type":"text","text":"E","fontSize":20,"fontWeight":"bold","align":"left","baseline":"alphabetic","dx":-33,"dy":3,"color":"#000000"},"encoding":{"x":{"datum":10,"type":"quantitative","scale":{"domain":[10,100],"nice":false,"zero":false},"axis":null},"y":{"datum":155,"type":"quantitative","scale":{"domain":[-25,155],"nice":false,"zero":false},"axis":null}}},
{"data":{"values":[{}]},"mark":{"type":"text","text":"Tertiary structure","angle":270,"fontSize":19.5,"fontWeight":"bold","color":"#1f4b8a","align":"center","baseline":"middle"},"encoding":{"x":{"datum":-25.7,"type":"quantitative","scale":{"domain":[10,100],"nice":false,"zero":false},"axis":null},"y":{"datum":47.8,"type":"quantitative","scale":{"domain":[-25,155],"nice":false,"zero":false},"axis":null}}},
{"data":{"values":[{"leg":"Dark"},{"leg":"Illuminated"},{"leg":"Experimental"},{"leg":"Fit"}]},"mark":{"type":"point","filled":true,"opacity":1},"encoding":{"x":{"field":"T","type":"quantitative","scale":{"domain":[10,100],"nice":false,"zero":false},"axis":null},"y":{"field":"v","type":"quantitative","scale":{"domain":[-25,155],"nice":false,"zero":false},"axis":null},
"shape":{"field":"leg","type":"nominal","scale":{"domain":["Dark","Illuminated","Experimental","Fit"],"range":["M0.047,0A0.33,0.33,0,1,1,0.707,0A0.33,0.33,0,1,1,0.047,0Z","M0.047,0A0.33,0.33,0,1,1,0.707,0A0.33,0.33,0,1,1,0.047,0Z","M-0.236,0A0.236,0.236,0,1,1,0.236,0A0.236,0.236,0,1,1,-0.236,0Z","M-1,0H1"]},"legend":{"title":null,"orient":"none","direction":"vertical","columns":2,"columnPadding":6.2,"legendX":-5.3,"legendY":149,"labelFontSize":15,"labelOffset":2,"rowPadding":0,"padding":0,"clipHeight":16,"symbolSize":450,"symbolStrokeWidth":1.4,"zindex":1,"labelColor":{"expr":"datum.value === 'Illuminated' ? '#ff0000' : '#000000'"}}},
"fill":{"field":"leg","type":"nominal","scale":{"domain":["Dark","Illuminated","Experimental","Fit"],"range":["#000000","#ff0000","transparent","transparent"]}},
"stroke":{"field":"leg","type":"nominal","scale":{"domain":["Dark","Illuminated","Experimental","Fit"],"range":["#000000","#ff0000","#666666","#666666"]}}}}
]},
{"width":233,"height":183,"resolve":{"axis":{"x":"independent","y":"independent"}},
"layer":[
{"data":{"values":[{}]},"mark":{"type":"rect","color":"#eef6fd"},"encoding":{"x":{"datum":10,"type":"quantitative","scale":{"domain":[10,100],"nice":false,"zero":false},"axis":null},"x2":{"datum":129.74},"y":{"datum":147.9,"type":"quantitative","scale":{"domain":[-40,140],"nice":false,"zero":false},"axis":null},"y2":{"datum":-88.2}}},
{"data":{"name":"exp"},"transform":[{"filter":"datum.p==='F'"}],"mark":{"type":"point","filled":false,"size":20,"strokeWidth":0.8,"opacity":0.75},"encoding":{"x":{"field":"T","type":"quantitative","scale":{"domain":[10,100],"nice":false,"zero":false},"axis":{"orient":"bottom","zindex":1,"title":"Temp (°C)","values":[10,20,30,40,50,60,70,80,90,100],"labelPadding":19.7,"labelBaseline":"middle","titleY":37.7,"titleBaseline":"middle"}},"y":{"field":"v","type":"quantitative","scale":{"domain":[-40,140],"nice":false,"zero":false},"axis":{"orient":"left","zindex":1,"title":"[θ]281 nm (deg cm² dmol⁻¹)","values":[-20,0,20,40,60,80,100,120],"labelPadding":8,"labelExpr":"replace(datum.label,'−','-')","titleX":-59,"titleY":91.5,"titleBaseline":"middle"}},"color":{"field":"c","type":"nominal","scale":{"domain":["D","I"],"range":["#000000","#ff0000"]},"legend":null}}},
{"data":{"name":"exp"},"transform":[{"filter":"datum.p==='F'"}],"mark":{"type":"circle","size":1.5,"opacity":1},"encoding":{"x":{"field":"T","type":"quantitative","scale":{"domain":[10,100],"nice":false,"zero":false},"axis":null},"y":{"field":"v","type":"quantitative","scale":{"domain":[-40,140],"nice":false,"zero":false},"axis":null},"color":{"field":"c","type":"nominal","scale":{"domain":["D","I"],"range":["#000000","#ff0000"]},"legend":null}}},
{"data":{"name":"raw"},"transform":[{"filter":"datum.p==='F'"}],"mark":{"type":"circle","size":2.5,"opacity":1},"encoding":{"x":{"field":"T","type":"quantitative","scale":{"domain":[10,100],"nice":false,"zero":false},"axis":null},"y":{"field":"v","type":"quantitative","scale":{"domain":[-40,140],"nice":false,"zero":false},"axis":null},"color":{"field":"c","type":"nominal","scale":{"domain":["D","I"],"range":["#000000","#ff0000"]},"legend":null}}},
{"data":{"name":"fit"},"transform":[{"filter":"datum.p==='F'"}],"mark":{"type":"line","strokeWidth":1.5,"interpolate":"monotone"},"encoding":{"x":{"field":"T","type":"quantitative","scale":{"domain":[10,100],"nice":false,"zero":false},"axis":{"orient":"top","zindex":1,"labels":false,"title":null,"values":[10,20,30,40,50,60,70,80,90,100]}},"y":{"field":"v","type":"quantitative","scale":{"domain":[-40,140],"nice":false,"zero":false},"axis":{"orient":"right","zindex":1,"labels":false,"title":null,"values":[-20,0,20,40,60,80,100,120]}},"color":{"field":"c","type":"nominal","scale":{"domain":["D","I"],"range":["#000000","#ff0000"]},"legend":null},"detail":{"field":"s","type":"nominal"}}},
{"data":{"name":"ann"},"transform":[{"filter":"datum.p==='F' && datum.k==='tm'"}],"mark":{"type":"text","text":"T","align":"left","baseline":"alphabetic","fontSize":15},"encoding":{"x":{"field":"T","type":"quantitative","scale":{"domain":[10,100],"nice":false,"zero":false},"axis":null},"y":{"field":"v","type":"quantitative","scale":{"domain":[-40,140],"nice":false,"zero":false},"axis":null},"color":{"field":"c","type":"nominal","scale":{"domain":["D","I"],"range":["#000000","#ff0000"]},"legend":null}}},
{"data":{"name":"ann"},"transform":[{"filter":"datum.p==='F' && datum.k==='tm'"}],"mark":{"type":"text","text":"m","align":"left","baseline":"alphabetic","fontSize":15,"dx":9.2,"dy":3},"encoding":{"x":{"field":"T","type":"quantitative","scale":{"domain":[10,100],"nice":false,"zero":false},"axis":null},"y":{"field":"v","type":"quantitative","scale":{"domain":[-40,140],"nice":false,"zero":false},"axis":null},"color":{"field":"c","type":"nominal","scale":{"domain":["D","I"],"range":["#000000","#ff0000"]},"legend":null}}},
{"data":{"name":"ann"},"transform":[{"filter":"datum.p==='F' && datum.k==='tm'"}],"mark":{"type":"text","align":"left","baseline":"alphabetic","fontSize":15,"dx":25.9},"encoding":{"x":{"field":"T","type":"quantitative","scale":{"domain":[10,100],"nice":false,"zero":false},"axis":null},"y":{"field":"v","type":"quantitative","scale":{"domain":[-40,140],"nice":false,"zero":false},"axis":null},"text":{"field":"txt"},"color":{"field":"c","type":"nominal","scale":{"domain":["D","I"],"range":["#000000","#ff0000"]},"legend":null}}},
{"data":{"name":"ann"},"transform":[{"filter":"datum.p==='F' && datum.k==='pl'"}],"mark":{"type":"text","align":"left","baseline":"alphabetic","fontSize":15},"encoding":{"x":{"field":"T","type":"quantitative","scale":{"domain":[10,100],"nice":false,"zero":false},"axis":null},"y":{"field":"v","type":"quantitative","scale":{"domain":[-40,140],"nice":false,"zero":false},"axis":null},"text":{"field":"txt"},"color":{"field":"c","type":"nominal","scale":{"domain":["D","I"],"range":["#000000","#ff0000"]},"legend":null}}},
{"data":{"values":[{}]},"mark":{"type":"text","text":"F","fontSize":20,"fontWeight":"bold","align":"left","baseline":"alphabetic","dx":-39,"dy":4,"color":"#000000"},"encoding":{"x":{"datum":10,"type":"quantitative","scale":{"domain":[10,100],"nice":false,"zero":false},"axis":null},"y":{"datum":140,"type":"quantitative","scale":{"domain":[-40,140],"nice":false,"zero":false},"axis":null}}}
]},
{"width":233,"height":183,"resolve":{"axis":{"x":"independent","y":"independent"}},
"layer":[
{"data":{"values":[{}]},"mark":{"type":"rect","color":"#eef6fd"},"encoding":{"x":{"datum":10,"type":"quantitative","scale":{"domain":[10,100],"nice":false,"zero":false},"axis":null},"x2":{"datum":129.74},"y":{"datum":72.3,"type":"quantitative","scale":{"domain":[-65.5,66.5],"nice":false,"zero":false},"axis":null},"y2":{"datum":-100.8}}},
{"data":{"name":"exp"},"transform":[{"filter":"datum.p==='G'"}],"mark":{"type":"point","filled":false,"size":20,"strokeWidth":0.8,"opacity":0.75},"encoding":{"x":{"field":"T","type":"quantitative","scale":{"domain":[10,100],"nice":false,"zero":false},"axis":{"orient":"bottom","zindex":1,"title":"Temp (°C)","values":[10,20,30,40,50,60,70,80,90,100],"labelPadding":19.7,"labelBaseline":"middle","titleY":37.7,"titleBaseline":"middle"}},"y":{"field":"v","type":"quantitative","scale":{"domain":[-65.5,66.5],"nice":false,"zero":false},"axis":{"orient":"left","zindex":1,"title":"[θ]281 nm (deg cm² dmol⁻¹)","values":[-60,-40,-20,0,20,40,60],"labelPadding":8,"labelExpr":"replace(datum.label,'−','-')","titleX":-58,"titleY":91.5,"titleBaseline":"middle"}},"color":{"field":"c","type":"nominal","scale":{"domain":["D","I"],"range":["#000000","#ff0000"]},"legend":null}}},
{"data":{"name":"exp"},"transform":[{"filter":"datum.p==='G'"}],"mark":{"type":"circle","size":1.5,"opacity":1},"encoding":{"x":{"field":"T","type":"quantitative","scale":{"domain":[10,100],"nice":false,"zero":false},"axis":null},"y":{"field":"v","type":"quantitative","scale":{"domain":[-65.5,66.5],"nice":false,"zero":false},"axis":null},"color":{"field":"c","type":"nominal","scale":{"domain":["D","I"],"range":["#000000","#ff0000"]},"legend":null}}},
{"data":{"name":"raw"},"transform":[{"filter":"datum.p==='G'"}],"mark":{"type":"circle","size":2.5,"opacity":1},"encoding":{"x":{"field":"T","type":"quantitative","scale":{"domain":[10,100],"nice":false,"zero":false},"axis":null},"y":{"field":"v","type":"quantitative","scale":{"domain":[-65.5,66.5],"nice":false,"zero":false},"axis":null},"color":{"field":"c","type":"nominal","scale":{"domain":["D","I"],"range":["#000000","#ff0000"]},"legend":null}}},
{"data":{"name":"fit"},"transform":[{"filter":"datum.p==='G'"}],"mark":{"type":"line","strokeWidth":1.5,"interpolate":"monotone"},"encoding":{"x":{"field":"T","type":"quantitative","scale":{"domain":[10,100],"nice":false,"zero":false},"axis":{"orient":"top","zindex":1,"labels":false,"title":null,"values":[10,20,30,40,50,60,70,80,90,100]}},"y":{"field":"v","type":"quantitative","scale":{"domain":[-65.5,66.5],"nice":false,"zero":false},"axis":{"orient":"right","zindex":1,"labels":false,"title":null,"values":[-60,-40,-20,0,20,40,60]}},"color":{"field":"c","type":"nominal","scale":{"domain":["D","I"],"range":["#000000","#ff0000"]},"legend":null},"detail":{"field":"s","type":"nominal"}}},
{"data":{"name":"ann"},"transform":[{"filter":"datum.p==='G' && datum.k==='tm'"}],"mark":{"type":"text","text":"T","align":"left","baseline":"alphabetic","fontSize":15},"encoding":{"x":{"field":"T","type":"quantitative","scale":{"domain":[10,100],"nice":false,"zero":false},"axis":null},"y":{"field":"v","type":"quantitative","scale":{"domain":[-65.5,66.5],"nice":false,"zero":false},"axis":null},"color":{"field":"c","type":"nominal","scale":{"domain":["D","I"],"range":["#000000","#ff0000"]},"legend":null}}},
{"data":{"name":"ann"},"transform":[{"filter":"datum.p==='G' && datum.k==='tm'"}],"mark":{"type":"text","text":"m","align":"left","baseline":"alphabetic","fontSize":15,"dx":9.2,"dy":3},"encoding":{"x":{"field":"T","type":"quantitative","scale":{"domain":[10,100],"nice":false,"zero":false},"axis":null},"y":{"field":"v","type":"quantitative","scale":{"domain":[-65.5,66.5],"nice":false,"zero":false},"axis":null},"color":{"field":"c","type":"nominal","scale":{"domain":["D","I"],"range":["#000000","#ff0000"]},"legend":null}}},
{"data":{"name":"ann"},"transform":[{"filter":"datum.p==='G' && datum.k==='tm'"}],"mark":{"type":"text","align":"left","baseline":"alphabetic","fontSize":15,"dx":25.9},"encoding":{"x":{"field":"T","type":"quantitative","scale":{"domain":[10,100],"nice":false,"zero":false},"axis":null},"y":{"field":"v","type":"quantitative","scale":{"domain":[-65.5,66.5],"nice":false,"zero":false},"axis":null},"text":{"field":"txt"},"color":{"field":"c","type":"nominal","scale":{"domain":["D","I"],"range":["#000000","#ff0000"]},"legend":null}}},
{"data":{"name":"ann"},"transform":[{"filter":"datum.p==='G' && datum.k==='pl'"}],"mark":{"type":"text","align":"left","baseline":"alphabetic","fontSize":15},"encoding":{"x":{"field":"T","type":"quantitative","scale":{"domain":[10,100],"nice":false,"zero":false},"axis":null},"y":{"field":"v","type":"quantitative","scale":{"domain":[-65.5,66.5],"nice":false,"zero":false},"axis":null},"text":{"field":"txt"},"color":{"field":"c","type":"nominal","scale":{"domain":["D","I"],"range":["#000000","#ff0000"]},"legend":null}}},
{"data":{"values":[{}]},"mark":{"type":"text","text":"G","fontSize":20,"fontWeight":"bold","align":"left","baseline":"alphabetic","dx":-41,"dy":4,"color":"#000000"},"encoding":{"x":{"datum":10,"type":"quantitative","scale":{"domain":[10,100],"nice":false,"zero":false},"axis":null},"y":{"datum":66.5,"type":"quantitative","scale":{"domain":[-65.5,66.5],"nice":false,"zero":false},"axis":null}}}
]},
{"width":232,"height":183,"resolve":{"axis":{"x":"independent","y":"independent"}},
"layer":[
{"data":{"values":[{}]},"mark":{"type":"rect","color":"#eef6fd"},"encoding":{"x":{"datum":10,"type":"quantitative","scale":{"domain":[10,100],"nice":false,"zero":false},"axis":null},"x2":{"datum":108.53},"y":{"datum":65.2,"type":"quantitative","scale":{"domain":[-60,60],"nice":false,"zero":false},"axis":null},"y2":{"datum":-92.1}}},
{"data":{"name":"exp"},"transform":[{"filter":"datum.p==='H'"}],"mark":{"type":"point","filled":false,"size":20,"strokeWidth":0.8,"opacity":0.75},"encoding":{"x":{"field":"T","type":"quantitative","scale":{"domain":[10,100],"nice":false,"zero":false},"axis":{"orient":"bottom","zindex":1,"title":"Temp (°C)","values":[10,20,30,40,50,60,70,80,90,100],"labelPadding":19.7,"labelBaseline":"middle","titleY":37.7,"titleBaseline":"middle"}},"y":{"field":"v","type":"quantitative","scale":{"domain":[-60,60],"nice":false,"zero":false},"axis":{"orient":"left","zindex":1,"title":"[θ]281 nm (deg cm² dmol⁻¹)","values":[-40,-20,0,20,40],"labelPadding":8,"labelExpr":"replace(datum.label,'−','-')","titleX":-58,"titleY":91.5,"titleBaseline":"middle"}},"color":{"field":"c","type":"nominal","scale":{"domain":["D","I"],"range":["#000000","#ff0000"]},"legend":null}}},
{"data":{"name":"exp"},"transform":[{"filter":"datum.p==='H'"}],"mark":{"type":"circle","size":1.5,"opacity":1},"encoding":{"x":{"field":"T","type":"quantitative","scale":{"domain":[10,100],"nice":false,"zero":false},"axis":null},"y":{"field":"v","type":"quantitative","scale":{"domain":[-60,60],"nice":false,"zero":false},"axis":null},"color":{"field":"c","type":"nominal","scale":{"domain":["D","I"],"range":["#000000","#ff0000"]},"legend":null}}},
{"data":{"name":"fit"},"transform":[{"filter":"datum.p==='H'"}],"mark":{"type":"line","strokeWidth":1.5,"interpolate":"monotone"},"encoding":{"x":{"field":"T","type":"quantitative","scale":{"domain":[10,100],"nice":false,"zero":false},"axis":{"orient":"top","zindex":1,"labels":false,"title":null,"values":[10,20,30,40,50,60,70,80,90,100]}},"y":{"field":"v","type":"quantitative","scale":{"domain":[-60,60],"nice":false,"zero":false},"axis":{"orient":"right","zindex":1,"labels":false,"title":null,"values":[-40,-20,0,20,40]}},"color":{"field":"c","type":"nominal","scale":{"domain":["D","I"],"range":["#000000","#ff0000"]},"legend":null},"detail":{"field":"s","type":"nominal"}}},
{"data":{"name":"ann"},"transform":[{"filter":"datum.p==='H' && datum.k==='tm'"}],"mark":{"type":"text","text":"T","align":"left","baseline":"alphabetic","fontSize":15},"encoding":{"x":{"field":"T","type":"quantitative","scale":{"domain":[10,100],"nice":false,"zero":false},"axis":null},"y":{"field":"v","type":"quantitative","scale":{"domain":[-60,60],"nice":false,"zero":false},"axis":null},"color":{"field":"c","type":"nominal","scale":{"domain":["D","I"],"range":["#000000","#ff0000"]},"legend":null}}},
{"data":{"name":"ann"},"transform":[{"filter":"datum.p==='H' && datum.k==='tm'"}],"mark":{"type":"text","text":"m","align":"left","baseline":"alphabetic","fontSize":15,"dx":9.2,"dy":3},"encoding":{"x":{"field":"T","type":"quantitative","scale":{"domain":[10,100],"nice":false,"zero":false},"axis":null},"y":{"field":"v","type":"quantitative","scale":{"domain":[-60,60],"nice":false,"zero":false},"axis":null},"color":{"field":"c","type":"nominal","scale":{"domain":["D","I"],"range":["#000000","#ff0000"]},"legend":null}}},
{"data":{"name":"ann"},"transform":[{"filter":"datum.p==='H' && datum.k==='tm'"}],"mark":{"type":"text","align":"left","baseline":"alphabetic","fontSize":15,"dx":25.9},"encoding":{"x":{"field":"T","type":"quantitative","scale":{"domain":[10,100],"nice":false,"zero":false},"axis":null},"y":{"field":"v","type":"quantitative","scale":{"domain":[-60,60],"nice":false,"zero":false},"axis":null},"text":{"field":"txt"},"color":{"field":"c","type":"nominal","scale":{"domain":["D","I"],"range":["#000000","#ff0000"]},"legend":null}}},
{"data":{"values":[{}]},"mark":{"type":"text","text":"H","fontSize":20,"fontWeight":"bold","align":"left","baseline":"alphabetic","dx":-33,"dy":4,"color":"#000000"},"encoding":{"x":{"datum":10,"type":"quantitative","scale":{"domain":[10,100],"nice":false,"zero":false},"axis":null},"y":{"datum":60,"type":"quantitative","scale":{"domain":[-60,60],"nice":false,"zero":false},"axis":null}}}
]}
],
"config":{"font":"Liberation Sans","numberFormat":"d","view":{"stroke":null},
"axis":{"grid":false,"domainColor":"#262626","domainWidth":1,"tickColor":"#262626","tickSize":-3,"tickWidth":1,"labelColor":"#262626","titleColor":"#262626","labelFontSize":13.5,"titleFontSize":14.5,"titleFontWeight":"normal","labelFlush":false,"labelOverlap":false}}
}
